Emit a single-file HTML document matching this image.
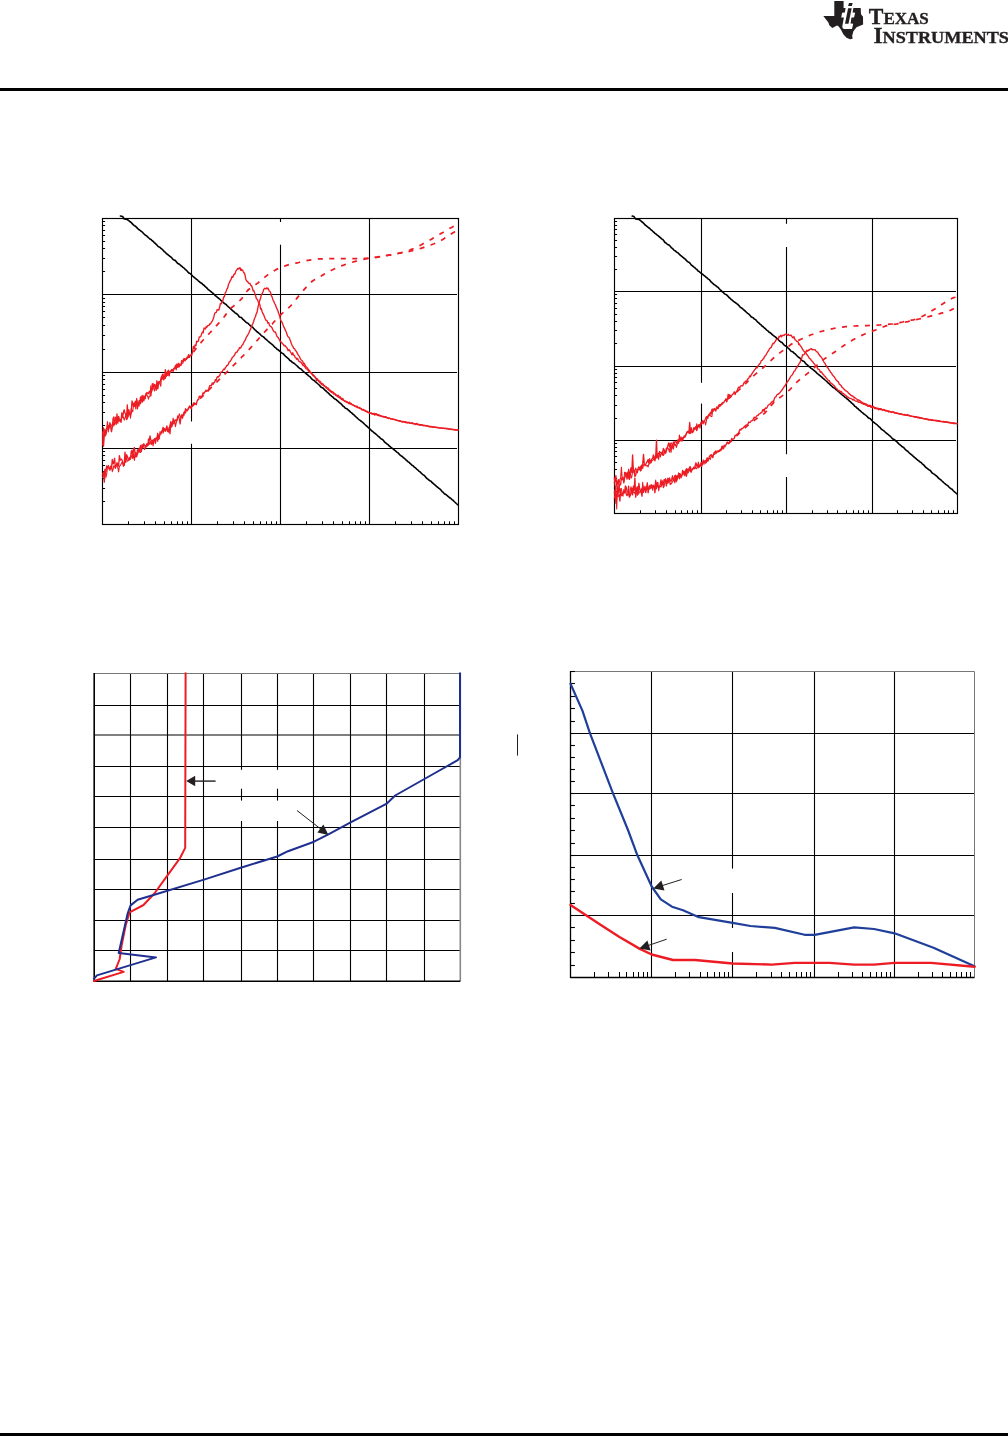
<!DOCTYPE html>
<html lang="en"><head><meta charset="utf-8"><title>Texas Instruments - Typical Characteristics</title>
<style>
html,body{margin:0;padding:0;background:#fff}
body{width:1008px;height:1436px;position:relative;overflow:hidden;font-family:"Liberation Serif",serif}
svg{position:absolute;left:0;top:0;display:block}
.logo{font-family:"Liberation Serif",serif;font-weight:bold;fill:#231f20;stroke:#231f20;stroke-width:.35px}
</style></head><body>
<svg width="1008" height="1436" viewBox="0 0 1008 1436">
<rect x="0" y="88" width="1008" height="3" fill="#000"/>
<rect x="0" y="1433" width="1008" height="3" fill="#000"/>
<g id="ti-logo"><title>TEXAS INSTRUMENTS</title>
<path fill="#231f20" d="M834.3,1 L843.6,1 L843.6,8 L860.7,8 L861,14.3 L863,16.7 L863.1,24.4 L856.5,27.2 L853.4,31.2 L852.2,35.7 L852.6,38.7 L850.1,39.3 L846.5,37.8 L843.3,34.2 L840.9,29.5 L838.5,26.2 L837,25.6 L832.3,27.9 L829.3,25.3 L828.4,22.6 L823.3,16 L834.3,16 Z"/>
<path fill="#fff" d="M845.7,7.5 L853.45,7.5 L852.6,12.5 L855.2,12.8 L854,17.6 L851.5,17.6 L850.5,23.5 L853.2,23.8 L852,28.9 L843.9,28.9 Q842,28.3 842.3,26.2 L843.9,17.6 L841.25,17.6 L842.1,12.8 L844.8,12.5 Z"/>
<path fill="#231f20" d="M848.1,8.2 L851.7,8.2 L848.5,23.8 L845,23.8 Z M849,3 L852.7,3 L851.8,6 L848.1,6 Z"/>
<text class="logo" x="868.8" y="23.6" textLength="60" lengthAdjust="spacingAndGlyphs"><tspan font-size="22.6">T</tspan><tspan font-size="17.6">EXAS</tspan></text>
<text class="logo" x="873.4" y="42.9" textLength="135.6" lengthAdjust="spacingAndGlyphs"><tspan font-size="22.6">I</tspan><tspan font-size="17.6">NSTRUMENTS</tspan></text>
</g>
<g id="chart1">
<rect x="102.5" y="218.5" width="356" height="306" fill="none" stroke="#000" stroke-width="1.15"/>
<line x1="191.5" y1="218.5" x2="191.5" y2="421.5" stroke="#000" stroke-width="1.1"/>
<line x1="191.5" y1="443.8" x2="191.5" y2="524.5" stroke="#000" stroke-width="1.1"/>
<line x1="280.5" y1="218.5" x2="280.5" y2="222" stroke="#000" stroke-width="1.1"/>
<line x1="280.5" y1="244.7" x2="280.5" y2="524.5" stroke="#000" stroke-width="1.1"/>
<line x1="369.5" y1="218.5" x2="369.5" y2="524.5" stroke="#000" stroke-width="1.1"/>
<line x1="102.5" y1="294.5" x2="457" y2="294.5" stroke="#000" stroke-width="1.1"/>
<line x1="102.5" y1="372.5" x2="457" y2="372.5" stroke="#000" stroke-width="1.1"/>
<line x1="102.5" y1="448.5" x2="457" y2="448.5" stroke="#000" stroke-width="1.1"/>
<line x1="102.5" y1="271.5" x2="105.1" y2="271.5" stroke="#000" stroke-width="1.0"/>
<line x1="102.5" y1="258.5" x2="105.1" y2="258.5" stroke="#000" stroke-width="1.0"/>
<line x1="102.5" y1="248.5" x2="105.1" y2="248.5" stroke="#000" stroke-width="1.0"/>
<line x1="102.5" y1="241.5" x2="105.1" y2="241.5" stroke="#000" stroke-width="1.0"/>
<line x1="102.5" y1="235.5" x2="105.1" y2="235.5" stroke="#000" stroke-width="1.0"/>
<line x1="102.5" y1="230.5" x2="105.1" y2="230.5" stroke="#000" stroke-width="1.0"/>
<line x1="102.5" y1="225.5" x2="105.1" y2="225.5" stroke="#000" stroke-width="1.0"/>
<line x1="102.5" y1="221.5" x2="105.1" y2="221.5" stroke="#000" stroke-width="1.0"/>
<line x1="102.5" y1="349.5" x2="105.1" y2="349.5" stroke="#000" stroke-width="1.0"/>
<line x1="102.5" y1="335.5" x2="105.1" y2="335.5" stroke="#000" stroke-width="1.0"/>
<line x1="102.5" y1="325.5" x2="105.1" y2="325.5" stroke="#000" stroke-width="1.0"/>
<line x1="102.5" y1="317.5" x2="105.1" y2="317.5" stroke="#000" stroke-width="1.0"/>
<line x1="102.5" y1="311.5" x2="105.1" y2="311.5" stroke="#000" stroke-width="1.0"/>
<line x1="102.5" y1="306.5" x2="105.1" y2="306.5" stroke="#000" stroke-width="1.0"/>
<line x1="102.5" y1="302.5" x2="105.1" y2="302.5" stroke="#000" stroke-width="1.0"/>
<line x1="102.5" y1="298.5" x2="105.1" y2="298.5" stroke="#000" stroke-width="1.0"/>
<line x1="102.5" y1="425.5" x2="105.1" y2="425.5" stroke="#000" stroke-width="1.0"/>
<line x1="102.5" y1="412.5" x2="105.1" y2="412.5" stroke="#000" stroke-width="1.0"/>
<line x1="102.5" y1="402.5" x2="105.1" y2="402.5" stroke="#000" stroke-width="1.0"/>
<line x1="102.5" y1="395.5" x2="105.1" y2="395.5" stroke="#000" stroke-width="1.0"/>
<line x1="102.5" y1="389.5" x2="105.1" y2="389.5" stroke="#000" stroke-width="1.0"/>
<line x1="102.5" y1="384.5" x2="105.1" y2="384.5" stroke="#000" stroke-width="1.0"/>
<line x1="102.5" y1="379.5" x2="105.1" y2="379.5" stroke="#000" stroke-width="1.0"/>
<line x1="102.5" y1="375.5" x2="105.1" y2="375.5" stroke="#000" stroke-width="1.0"/>
<line x1="102.5" y1="501.5" x2="105.1" y2="501.5" stroke="#000" stroke-width="1.0"/>
<line x1="102.5" y1="488.5" x2="105.1" y2="488.5" stroke="#000" stroke-width="1.0"/>
<line x1="102.5" y1="478.5" x2="105.1" y2="478.5" stroke="#000" stroke-width="1.0"/>
<line x1="102.5" y1="471.5" x2="105.1" y2="471.5" stroke="#000" stroke-width="1.0"/>
<line x1="102.5" y1="465.5" x2="105.1" y2="465.5" stroke="#000" stroke-width="1.0"/>
<line x1="102.5" y1="460.5" x2="105.1" y2="460.5" stroke="#000" stroke-width="1.0"/>
<line x1="102.5" y1="455.5" x2="105.1" y2="455.5" stroke="#000" stroke-width="1.0"/>
<line x1="102.5" y1="451.5" x2="105.1" y2="451.5" stroke="#000" stroke-width="1.0"/>
<line x1="128.5" y1="521.3" x2="128.5" y2="524.5" stroke="#000" stroke-width="1.0"/>
<line x1="144.5" y1="521.3" x2="144.5" y2="524.5" stroke="#000" stroke-width="1.0"/>
<line x1="155.5" y1="521.3" x2="155.5" y2="524.5" stroke="#000" stroke-width="1.0"/>
<line x1="164.5" y1="521.3" x2="164.5" y2="524.5" stroke="#000" stroke-width="1.0"/>
<line x1="171.5" y1="521.3" x2="171.5" y2="524.5" stroke="#000" stroke-width="1.0"/>
<line x1="177.5" y1="521.3" x2="177.5" y2="524.5" stroke="#000" stroke-width="1.0"/>
<line x1="182.5" y1="521.3" x2="182.5" y2="524.5" stroke="#000" stroke-width="1.0"/>
<line x1="187.5" y1="521.3" x2="187.5" y2="524.5" stroke="#000" stroke-width="1.0"/>
<line x1="217.5" y1="521.3" x2="217.5" y2="524.5" stroke="#000" stroke-width="1.0"/>
<line x1="233.5" y1="521.3" x2="233.5" y2="524.5" stroke="#000" stroke-width="1.0"/>
<line x1="244.5" y1="521.3" x2="244.5" y2="524.5" stroke="#000" stroke-width="1.0"/>
<line x1="253.5" y1="521.3" x2="253.5" y2="524.5" stroke="#000" stroke-width="1.0"/>
<line x1="260.5" y1="521.3" x2="260.5" y2="524.5" stroke="#000" stroke-width="1.0"/>
<line x1="266.5" y1="521.3" x2="266.5" y2="524.5" stroke="#000" stroke-width="1.0"/>
<line x1="271.5" y1="521.3" x2="271.5" y2="524.5" stroke="#000" stroke-width="1.0"/>
<line x1="276.5" y1="521.3" x2="276.5" y2="524.5" stroke="#000" stroke-width="1.0"/>
<line x1="306.5" y1="521.3" x2="306.5" y2="524.5" stroke="#000" stroke-width="1.0"/>
<line x1="322.5" y1="521.3" x2="322.5" y2="524.5" stroke="#000" stroke-width="1.0"/>
<line x1="333.5" y1="521.3" x2="333.5" y2="524.5" stroke="#000" stroke-width="1.0"/>
<line x1="342.5" y1="521.3" x2="342.5" y2="524.5" stroke="#000" stroke-width="1.0"/>
<line x1="349.5" y1="521.3" x2="349.5" y2="524.5" stroke="#000" stroke-width="1.0"/>
<line x1="355.5" y1="521.3" x2="355.5" y2="524.5" stroke="#000" stroke-width="1.0"/>
<line x1="360.5" y1="521.3" x2="360.5" y2="524.5" stroke="#000" stroke-width="1.0"/>
<line x1="365.5" y1="521.3" x2="365.5" y2="524.5" stroke="#000" stroke-width="1.0"/>
<line x1="395.5" y1="521.3" x2="395.5" y2="524.5" stroke="#000" stroke-width="1.0"/>
<line x1="411.5" y1="521.3" x2="411.5" y2="524.5" stroke="#000" stroke-width="1.0"/>
<line x1="422.5" y1="521.3" x2="422.5" y2="524.5" stroke="#000" stroke-width="1.0"/>
<line x1="431.5" y1="521.3" x2="431.5" y2="524.5" stroke="#000" stroke-width="1.0"/>
<line x1="438.5" y1="521.3" x2="438.5" y2="524.5" stroke="#000" stroke-width="1.0"/>
<line x1="444.5" y1="521.3" x2="444.5" y2="524.5" stroke="#000" stroke-width="1.0"/>
<line x1="449.5" y1="521.3" x2="449.5" y2="524.5" stroke="#000" stroke-width="1.0"/>
<line x1="454.5" y1="521.3" x2="454.5" y2="524.5" stroke="#000" stroke-width="1.0"/>
<polyline fill="none" stroke="#000" stroke-width="1.6" stroke-linejoin="round" stroke-linecap="round" points="120.4,216 122.6,216.6 124.3,218.9 127.3,219.5 129,220.8 130,221.8 131.2,222.5 132.2,223.6 133.4,224.9 134.4,225.7 135.6,226.2 136.6,227.4 137.8,228.6 138.8,229.5 140,230.3 141,231.3 142.2,231.9 143.2,233.1 144.4,234.3 145.4,235.2 146.6,235.7 147.6,236.9 148.8,238 149.8,238.9 151.1,239.5 152.1,240.7 153.3,241.5 154.3,242.6 155.5,243.7 156.5,244.6 157.7,246.1 158.7,246.7 159.9,247.2 160.9,248.4 162.1,249.2 163.1,250.3 164.3,251.6 165.3,252.3 166.5,253.8 167.5,254.3 168.7,255.3 169.7,256.1 170.9,257 171.9,258 173.1,259.6 174.1,260.1 175.3,260.4 176.3,261.7 177.5,263.2 178.5,263.8 179.7,264.5 180.7,265.5 181.9,266.3 182.9,267.4 184.1,268.1 185.1,269.3 186.3,270.2 187.3,271.3 188.5,272.7 189.5,273.3 190.7,273.9 191.7,275 192.9,276.3 193.9,277.1 195.1,278.2 196.1,279 197.3,279.8 198.3,280.8 199.6,281.9 200.6,282.8 201.8,283.3 202.8,284.5 204,285.2 205,286.4 206.2,287.3 207.2,288.4 208.4,289.7 209.4,290.4 210.6,291.3 211.6,292.2 212.8,293.1 213.8,294.1 215,295.3 216,296.1 217.2,297.1 218.2,298 219.4,298.8 220.4,299.8 221.6,301.2 222.6,301.9 223.8,303 224.8,303.7 226,304.4 227,305.5 228.2,306.7 229.2,307.5 230.4,308.6 231.4,309.4 232.6,310.8 233.6,311.4 234.8,312.6 235.8,313.3 237,314 238,315 239.2,316.7 240.2,317.2 241.4,317.6 242.4,318.8 243.6,319.9 244.6,320.8 245.9,322.1 246.9,322.8 248.1,323.4 249.1,324.5 250.3,325.6 251.3,326.5 252.5,327.1 253.5,328.3 254.7,329.6 255.7,330.4 256.9,331.7 257.9,332.3 259.1,333.4 260.1,334.2 261.3,335.6 262.3,336.2 263.5,336.9 264.5,337.9 265.7,339.2 266.7,339.9 267.9,341 268.9,341.8 270.1,342.9 271.1,343.7 272.3,344.6 273.3,345.5 274.5,347 275.5,347.6 276.7,349 277.7,349.5 278.9,350.4 279.9,351.3 281.1,352.5 282.1,353.2 283.3,353.7 284.3,354.9 285.5,356.3 286.5,357 287.7,358.2 288.7,358.9 289.9,360.5 290.9,360.9 292.1,362.2 293.1,362.8 294.4,363.5 295.4,364.5 296.6,365.5 297.6,366.4 298.8,367.7 299.8,368.4 301,368.9 302,370.1 303.2,371.3 304.2,372.2 305.4,372.9 306.4,374 307.6,374.7 308.6,375.9 309.8,376.6 310.8,377.8 312,379.2 313,379.9 314.2,380.4 315.2,381.6 316.4,382.5 317.4,383.5 318.6,384.5 319.6,385.5 320.8,387 321.8,387.5 323,388 324,389.2 325.2,390.3 326.2,391.2 327.4,392.3 328.4,393.1 329.6,394.6 330.6,395.2 331.8,396.4 332.8,397 334,398.4 335,399 336.2,399.6 337.2,400.7 338.4,401.7 339.4,402.6 340.7,403.5 341.7,404.5 342.9,406 343.9,406.6 345.1,408 346.1,408.5 347.3,409 348.3,410.1 349.5,411 350.5,412.1 351.7,412.9 352.7,414 353.9,414.8 354.9,415.9 356.1,417 357.1,417.9 358.3,419 359.3,419.8 360.5,420.6 361.5,421.6 362.7,422.2 363.7,423.4 364.9,424.5 365.9,425.5 367.1,426.4 368.1,427.4 369.3,428.5 370.3,429.3 371.5,430.8 372.5,431.3 373.7,432.5 374.7,433.2 375.9,434.2 376.9,435 378.1,436.2 379.1,436.9 380.3,438.1 381.3,438.9 382.5,439.4 383.5,440.6 384.7,442.2 385.7,442.8 387,444 388,444.6 389.2,446 390.2,446.6 391.4,447.8 392.4,448.4 393.6,449.3 394.6,450.2 395.8,451.2 396.8,452.1 398,452.7 399,453.9 400.2,455.2 401.2,456 402.4,456.5 403.4,457.7 404.6,458.4 405.6,459.6 406.8,460.5 407.8,461.6 409,462.3 410,463.4 411.2,464.4 412.2,465.4 413.4,466 414.4,467.2 415.6,467.9 416.6,469.1 417.8,469.9 418.8,471.1 420,471.8 421,472.9 422.2,474 423.2,474.9 424.4,475.5 425.4,476.7 426.6,478.3 427.6,478.9 428.8,480 429.8,480.7 431,481.3 432,482.5 433.2,483.4 434.2,484.4 435.5,485.4 436.5,486.3 437.7,487.3 438.7,488.3 439.9,488.9 440.9,490.1 442.1,491.6 443.1,492.2 444.3,493.7 445.3,494.2 446.5,495 447.5,495.9 448.7,496.9 449.7,497.8 450.9,498.4 451.9,499.6 453.1,500.3 454.1,501.5 455.3,502.5 456.3,503.5 458,505"/>
<polyline fill="none" stroke="#ed1c24" stroke-width="1.35" stroke-linejoin="round" stroke-linecap="round" points="102.7,431.9 103.5,446.2 104.3,435.3 105.1,429.3 105.9,434.2 106.7,430.1 107.5,427.9 108.3,425.6 109.1,428.1 109.9,422.7 110.7,427.3 111.5,431.7 112.3,427.1 113.1,418.6 113.8,416.9 114.6,422.4 115.4,422 116.2,424.4 117,414 117.8,423.1 118.6,418.5 119.4,421.1 120.2,420 121,422.4 121.8,412.9 122.6,417.5 123.4,412.5 124.2,409.8 125,413 125.8,414.6 126.6,416.2 127.3,405 128.1,416.8 128.9,409.8 129.7,414.6 130.5,415.4 131.2,413.2 132,401 132.8,404.5 133.6,406.6 134.4,404.2 135.2,402.7 135.9,408.8 136.7,400.2 137.5,402.9 138.3,404.9 139.1,400.7 139.8,402.1 140.6,396.9 141.4,400.9 142.2,402.1 143,396.8 143.8,400.8 144.5,397.8 145.3,396.8 146.1,393.9 146.9,392.5 147.7,393.3 148.4,393.7 149.2,391.4 150,391.2 150.8,395.9 151.5,390.8 152.3,383.8 153.1,385.7 153.8,388 154.6,384.5 155.4,386 156.2,390.2 156.9,380.8 157.7,388.8 158.5,381.9 159.2,381.9 160,382.7 160.8,379.2 161.5,376.8 162.3,379 163.1,375.5 163.8,379.8 164.6,377.1 165.4,369.7 166.2,376.4 166.9,372.6 167.7,375.4 168.5,370.3 169.2,375.9 170,371.6 170.8,371.5 171.6,369.9 172.3,369.9 173.1,370.2 173.9,368.2 174.7,368.2 175.4,365.6 176.2,369.6 177,363.9 177.8,367.3 178.6,363.3 179.3,366.4 180.1,365.3 180.9,364.8 181.7,360.7 182.5,361.4 183.2,359.8 184,358.5 184.8,360.8 185.6,359.7 186.4,359.1 187.1,357.2 187.9,356.7 188.7,354.6 189.5,357.4 190.2,355.5 191,354.8 191.8,355.2 192.6,351.5 193.4,346.3 194.3,348.6 195.1,345 195.9,345.6 196.7,341.2 197.5,341.7 198.4,341.2 199.2,336.8 200,336.8 200.8,336.4 201.6,334.1 202.4,331.9 203.2,332.7 204,328 204.8,328.6 205.5,329 206.1,326.7 206.8,327.3 207.4,325.7 208.1,325.7 208.7,325.4 209.4,324.9 210,323.6 210.7,323.8 211.5,322 212.3,321.1 213.1,319.2 213.9,316.7 214.7,313.3 215.5,312.7 216.3,312.3 217.1,309.7 217.9,309.9 218.8,310.2 219.6,307.3 220.4,303.5 221.2,303.9 222,302 222.8,301 223.6,296.8 224.4,296.8 225.2,292.9 226,291.9 226.8,289.4 227.7,287.8 228.5,284.5 229.4,282.5 230.3,280.6 231.1,279.4 232,276.5 232.7,277.4 233.3,276.3 234,274.1 234.7,274.3 235.3,272.9 236,270.9 236.8,269.8 237.7,268.4 238.5,269 239.3,268.1 240,267.7 240.7,270.4 241.3,269 242,270.5 242.7,270.1 243.3,271.8 243.9,272.8 244.6,273.5 245.2,276 245.8,279.2 246.6,281 247.5,281.3 248.3,282.9 249.1,283.5 249.9,283.3 250.8,285.6 251.6,285.7 252.4,288 253.1,290.9 253.7,290.4 254.4,292.2 255,294.5 255.7,295.8 256.3,298.6 257,299.2 257.6,299.7 258.3,302.1 259.1,303 259.8,304.3 260.6,309.1 261.3,308.6 262.1,311.5 262.8,313.4 263.6,314.5 264.3,316.6 265.2,318.7 266.1,320.5 267,320.4 267.9,323.2 268.7,322.7 269.6,325.6 270.5,326.3 271.4,326.8 272.2,328.2 273,330.2 273.8,331.4 274.6,332.1 275.4,331.9 276.2,334.3 277,336.4 277.8,337.1 278.6,338.4 279.4,339.5 280.2,341.6 281,341.9 281.8,342.8 282.6,343.7 283.4,344.5 284.2,345.8 284.9,345.4 285.7,346.4 286.5,347.5 287.3,348.3 288.1,350.7 288.9,349.6 289.7,350.4 290.5,352 291.3,353.3 292,354.9 292.8,352.8 293.6,355.1 294.4,355.3 295.2,357.6 296,357.9 296.8,359.4 297.6,358.5 298.4,360.6 299.2,361.5 300,361.8 300.8,362 301.6,363.3 302.4,364.2 303.1,365.6 303.9,365.5 304.7,366.6 305.5,368 306.3,368.7 307.1,369.2 307.9,370 308.7,371.1 309.5,370.4 310.3,372.4 311.1,372.7 311.9,373.8 312.7,374.4 313.5,375.1 314.2,376 315,376.7 315.8,378.3 316.6,378.5 317.4,378.9 318.2,380.5 319,381 319.8,381.2 320.6,382 321.4,383.5 322.1,383.6 322.9,383.9 323.7,384.9 324.5,385.7 325.3,386.3 326.1,386.7 326.9,387.8 327.6,388 328.4,388.2 329.2,389.8 330,390.7 330.8,390.5 331.5,392.1 332.2,391.5 333,392 333.8,392.9 334.5,393.5 335.2,393.9 336,394.9 336.8,395.4 337.5,395.7 338.2,395.1 339,396.4 339.8,397.2 340.5,396.9 341.2,398.6 342,399.2 342.8,398.5 343.5,400.4 344.2,400.7 345,401.2 345.8,401.2 346.5,401.6 347.3,402 348,402.4 348.8,402.8 349.6,402.3 350.3,403.1 351.1,403.3 351.8,404.4 352.6,404.6 353.4,405.2 354.1,405.5 354.9,406.1 355.6,406.1 356.4,406.1 357.1,406.2 357.9,407.5 358.7,407.5 359.4,407.5 360.2,408.1 360.9,408.5 361.7,409.2 362.5,409.3 363.2,409.3 364,410.1 364.7,410.1 365.5,410.9 366.3,411.3 367,411.2 367.8,411.8 368.5,412.5 369.3,412.7 370.1,413 370.8,413.2 371.6,413 372.4,413.7 373.1,413.6 373.9,413.5 374.7,413.5 375.4,414.5 376.2,413.7 377,414.7 377.7,415 378.5,414.7 379.3,415.1 380,415.4 380.8,415.8 381.6,416.2 382.3,416.3 383.1,416.3 383.9,416.7 384.6,416.6 385.4,416.6 386.2,417.1 387,417.7 387.7,417.7 388.5,418.6 389.3,418.2 390,418.4 390.8,418.6 391.6,418.8 392.3,418.9 393.1,419.3 393.9,419.1 394.6,419.5 395.4,419.9 396.2,419.9 396.9,420.2 397.7,420.4 398.5,420.7 399.2,420.6 400,421 400.8,421.2 401.5,421.3 402.2,421.4 403,421.4 403.8,421.7 404.5,421.9 405.2,421.9 406,422.2 406.8,422.2 407.5,422.9 408.2,422.5 409,422.3 409.8,423.1 410.5,423.1 411.2,423.3 412,423.4 412.8,423 413.5,423.3 414.2,423.7 415,423.8 415.8,424.5 416.5,423.4 417.2,424 418,424.5 418.8,424.6 419.5,424.5 420.2,424.9 421,424.7 421.8,424.6 422.5,425 423.2,425.1 424,425.4 424.8,425.3 425.5,425.7 426.2,425.9 427,425.5 427.8,426.2 428.5,426.5 429.2,426.5 430,426.7 430.8,426.7 431.6,426.9 432.3,427 433.1,426.9 433.9,426.9 434.7,427.4 435.4,427.1 436.2,427.3 437,427.3 437.8,427.7 438.6,427.9 439.3,427.8 440.1,427.9 440.9,427.8 441.7,428.4 442.4,428.1 443.2,428.2 444,428.3 444.8,428.3 445.6,428.2 446.3,428.5 447.1,428.4 447.9,428.7 448.7,429.1 449.4,428.9 450.2,429 451,429.6 451.8,429.2 452.6,429.2 453.3,429.7 454.1,429.6 454.9,429.8 455.7,429.7 456.4,429.8 457.2,429.9 458,429.8"/>
<polyline fill="none" stroke="#ed1c24" stroke-width="1.35" stroke-linejoin="round" stroke-linecap="round" points="102.7,473.7 103.5,473.2 104.3,482.2 105.1,469.7 105.9,471.6 106.7,465.9 107.5,467.1 108.3,467.2 109.1,468.9 109.9,469 110.7,468.9 111.5,468 112.3,459.5 113.1,463.8 113.8,462.6 114.6,458.3 115.4,467.8 116.2,465.5 117,463.7 117.8,463.9 118.6,465.9 119.4,455.7 120.2,460.2 121,459.2 121.8,459.3 122.6,462.5 123.4,466.2 124.2,464.7 125,452.2 125.8,462.4 126.6,454.7 127.3,456.3 128.1,458.5 128.9,460.1 129.7,457.5 130.5,459 131.2,451.8 132,450.3 132.8,456.8 133.6,449.3 134.4,447.6 135.2,455.4 135.9,452.8 136.7,456.6 137.5,449.8 138.3,449.9 139.1,452.3 139.8,448.4 140.6,445.4 141.4,451.2 142.2,444.6 143,447.2 143.8,443.6 144.5,445.9 145.3,445.4 146.1,447 146.9,445.3 147.7,445.5 148.4,444.6 149.2,440.7 150,436 150.8,440.2 151.5,440.3 152.3,441.8 153.1,439.8 153.8,440.9 154.6,438.7 155.4,443.3 156.2,438.8 156.9,438.7 157.7,433.3 158.5,439.2 159.2,437.6 160,434.1 160.8,434.1 161.5,432.7 162.3,430.3 163.1,427.3 163.8,431 164.6,428.5 165.4,431.2 166.2,428.5 166.9,425.9 167.7,431.4 168.5,432.1 169.2,427.7 170,433.7 170.8,422.8 171.6,424.7 172.3,421.9 173.1,423.2 173.9,423.9 174.7,421.1 175.4,420 176.2,420.2 177,420.2 177.8,415.9 178.6,416.8 179.3,418.8 180.1,423.9 180.9,417.8 181.7,414.8 182.5,418.2 183.2,414.6 184,412.1 184.8,412.3 185.6,408.7 186.4,410.3 187.1,410.9 187.9,409.3 188.7,407.6 189.5,407.2 190.2,406.8 191,406.5 191.8,406.7 192.6,405.4 193.3,403.5 194.1,402.7 194.8,404.3 195.6,403.4 196.3,404.7 197.1,401.1 197.8,399.6 198.6,399.6 199.3,396.2 200.1,397.1 200.8,396.3 201.6,397.2 202.3,395.5 203.1,392.8 203.8,393.8 204.6,392.1 205.3,391.6 206.1,390.2 206.8,391.4 207.6,390.3 208.3,391 209.1,387.7 209.9,385.5 210.6,385.6 211.4,385.7 212.2,383 213,384.4 213.7,382.6 214.5,382.6 215.3,379.6 216.1,380.5 216.8,377.9 217.6,376.6 218.4,377.1 219.2,375.9 219.9,375.4 220.7,372.1 221.5,372.1 222.2,371.6 223,370.2 223.8,369 224.6,369.6 225.3,367.8 226.1,366.9 226.9,365.4 227.6,365.3 228.4,364.1 229.2,361.8 229.9,361.8 230.7,360.2 231.4,359.7 232.2,357.6 233,356.9 233.7,356 234.5,355.2 235.3,353.2 236.2,352.1 237,352.2 237.9,350.3 238.7,349.7 239.5,347.6 240.4,348.1 241.2,347 242.1,345 242.9,344.6 243.6,342.8 244.2,341.7 244.9,340.5 245.5,339.8 246.2,337.5 246.8,336.2 247.5,335.8 248.1,334.3 248.8,333.4 249.6,331 250.4,329.4 251.2,327.4 252,325.4 252.8,323.7 253.6,321.5 254.5,318.5 255.4,316.7 256.2,313.9 257.1,312.1 258,306.9 258.9,303.8 259.6,300.9 260.4,298.8 261.1,295.8 261.9,294 262.5,292.9 263.1,291.5 263.7,289.5 264.5,288.3 265.2,288.7 266,288.7 266.6,287.9 267.2,288.8 267.9,288.1 268.5,289.3 269.2,291 269.9,291.3 270.7,293 271.4,295.8 272.2,297.1 273,300 273.8,301.3 274.6,303.5 275.4,304.7 276.2,307.1 277,308.9 277.8,310.5 278.6,313.3 279.4,315.3 280.2,318.4 281,320.9 281.8,321.9 282.6,323.6 283.4,326 284.1,327.4 284.9,329.1 285.7,330.8 286.3,332.2 286.9,334 287.5,335.9 288.4,337 289.3,337.7 289.9,339.5 290.5,340.7 291.1,342.7 291.7,344.5 292.3,345.6 292.9,346.6 293.7,348.3 294.6,348.7 295.4,350.5 296.2,351.1 297,352.6 297.9,354.4 298.7,355.7 299.5,356.7 300.4,358.8 301.2,360 302,360.5 302.8,361.7 303.6,363.9 304.4,363.4 305.2,365.4 305.9,366.4 306.7,367.2 307.5,368.2 308.3,369.5 309.1,370.4 309.9,372.1 310.7,372.7 311.5,373.6 312.4,374.6 313.2,375.8 314,375.9 314.9,377.2 315.7,377.9 316.5,380.5 317.3,379.9 318.2,380.3 319,381.6 319.8,382.7 320.6,383.2 321.4,384.3 322.1,384.8 322.9,385.2 323.7,385.7 324.5,386.3 325.3,386.8 326.1,388 326.9,387.7 327.6,389.1 328.4,389.8 329.2,390.5 330,390.8 330.8,391.7 331.5,391.7 332.2,392.8 333,392.9 333.8,394 334.5,393.5 335.2,394.7 336,395.5 336.8,395.8 337.5,396.2 338.2,397 339,397.1 339.8,398 340.5,398 341.2,399.1 342,399.6 342.8,399.9 343.5,399.9 344.2,400.9 345,401.3 345.8,401.9 346.5,401.8 347.3,402.7 348,402.5 348.8,403.7 349.6,403.3 350.3,403.9 351.1,404.3 351.8,404.6 352.6,404.8 353.4,405.1 354.1,405.8 354.9,406.1 355.6,406.6 356.4,407 357.1,407.5 357.9,407.6 358.7,407.9 359.4,408 360.2,408.7 360.9,408.5 361.7,409.6 362.5,410.1 363.2,410 364,410.5 364.7,410.8 365.5,411.3 366.3,411.3 367,412.1 367.8,412.3 368.5,412.7 369.3,412.9 370.1,413.4 370.8,413.2 371.6,413.8 372.4,414.2 373.1,414.1 373.9,414.2 374.7,415.1 375.4,414.3 376.2,414.7 377,414.3 377.7,415.4 378.5,415.7 379.3,415.5 380,416.1 380.8,415.9 381.6,416.4 382.3,416.5 383.1,416.8 383.9,417.2 384.6,417.1 385.4,417.4 386.2,417.4 387,417.8 387.7,417.8 388.5,418.4 389.3,418.1 390,418.3 390.8,419 391.6,419.1 392.3,419.2 393.1,419.2 393.9,419.5 394.6,419.6 395.4,420 396.2,420.1 396.9,420.5 397.7,420.7 398.5,420.7 399.2,421.2 400,421 400.8,421.3 401.5,421.6 402.2,422.3 403,421.7 403.8,421.7 404.5,422.4 405.2,421.8 406,422.8 406.8,422.3 407.5,422.7 408.2,422.6 409,422.8 409.8,423 410.5,423.4 411.2,423.3 412,422.7 412.8,423.8 413.5,423.8 414.2,423.9 415,424.2 415.8,423.8 416.5,424.2 417.2,423.8 418,424.7 418.8,424.5 419.5,425.1 420.2,425.3 421,425.1 421.8,425.2 422.5,425.4 423.2,425.6 424,425.9 424.8,425.5 425.5,425.9 426.2,425.9 427,425.8 427.8,426.2 428.5,426.1 429.2,426.9 430,426.4 430.8,426.3 431.6,426.9 432.3,427 433.1,427.2 433.9,427.2 434.7,427.2 435.4,427.4 436.2,427.5 437,427.3 437.8,427.6 438.6,427.8 439.3,427.8 440.1,427.8 440.9,428.1 441.7,428.3 442.4,428.4 443.2,428.1 444,428.3 444.8,428.7 445.6,428.6 446.3,428.6 447.1,428.8 447.9,428.9 448.7,429.1 449.4,429.4 450.2,429.2 451,429.4 451.8,429.4 452.6,429.6 453.3,429.6 454.1,429.4 454.9,430 455.7,429.9 456.4,430 457.2,430.2 458,429.9"/>
<polyline fill="none" stroke="#ed1c24" stroke-width="1.1" stroke-linejoin="round" stroke-linecap="round" points="102.7,445 103.5,427.6 104.3,431.2 105.1,436.3 105.9,434.8 106.7,427.7 107.5,421.6 108.3,432 109.1,427 109.9,426 110.7,424.1 111.5,425.9 112.3,426.5 113.1,426.3 113.8,422 114.6,425.1 115.4,417 116.2,420.6 117,420.5 117.8,419.4 118.6,416.2 119.4,418.6 120.2,419.4 121,420.9 121.8,417.6 122.6,417.1 123.4,417 124.2,420.1 125,418.1 125.8,414.6 126.6,419.8 127.3,419 128.1,410.1 128.9,414.1 129.7,412.4 130.5,418.1 131.2,408.3 132,411.4 132.8,411.6 133.6,403.1 134.4,406.7 135.2,401.1 135.9,403.7 136.7,398.4 137.5,409 138.3,403.4 139.1,406.3 139.8,401 140.6,403.9 141.4,397.6 142.2,395.2 143,400.2 143.8,395.6 144.5,396.6 145.3,398.8 146.1,393.4 146.9,394.9 147.7,396.1 148.4,399.2 149.2,396.5 150,396.2 150.8,385.9 151.5,391.7 152.3,390 153.1,383.4 153.8,388.8 154.6,391 155.4,387.1 156.2,384.5 156.9,387.1 157.7,388.4 158.5,382.8 159.2,381.5 160,384.3 160.8,386.3 161.5,376.7 162.3,374.6 163.1,373.9 163.8,379.2 164.6,376.6 165.4,378.4 166.2,373.9 166.9,374 167.7,371 168.5,372.9 169.2,373.9 170,371.1 170.8,371.8 171.5,369.6 172.2,369.4 173,371.9 173.8,369.8 174.5,368.5 175.2,367.8 176,364.8 176.8,365.2 177.5,364.6 178.2,364.9 179,367.2 179.8,364 180.5,365.1 181.2,365.3 182,363.1 182.8,363.3 183.5,361.3 184.2,359.6 185,358.3"/>
<polyline fill="none" stroke="#ed1c24" stroke-width="1.1" stroke-linejoin="round" stroke-linecap="round" points="102.7,477.5 103.5,471.9 104.3,473.2 105.1,469 105.9,477.5 106.7,473.9 107.5,467.1 108.3,465.4 109.1,467.3 109.9,470.4 110.7,465.9 111.5,466.3 112.3,471.6 113.1,469.3 113.8,465.7 114.6,466.6 115.4,468.4 116.2,465.9 117,462.4 117.8,467.7 118.6,471.9 119.4,466.5 120.2,465.7 121,464.2 121.8,462.9 122.6,461.9 123.4,463.4 124.2,465.5 125,461.5 125.8,459.6 126.6,458.1 127.3,461.2 128.1,460.8 128.9,459.4 129.7,459.7 130.5,458.8 131.2,455.7 132,456.2 132.8,458.5 133.6,454.2 134.4,460.5 135.2,453.7 135.9,457.1 136.7,455.1 137.5,454.5 138.3,451.9 139.1,448.1 139.8,449.3 140.6,452.5 141.4,450.8 142.2,446.8 143,445.8 143.8,446.7 144.5,449.5 145.3,447.7 146.1,445.7 146.9,443.4 147.7,446 148.4,438.9 149.2,443.9 150,444.2 150.8,441.2 151.5,444.4 152.3,441.6 153.1,446 153.8,440.8 154.6,440.8 155.4,438.5 156.2,437.6 156.9,438.3 157.7,441.4 158.5,435 159.2,438.9 160,431.5 160.8,432.7 161.5,431.7 162.3,431 163.1,433.1 163.8,429.8 164.6,430.5 165.4,430 166.2,430.2 166.9,427.6 167.7,431.4 168.5,429.6 169.2,428 170,425 170.8,421.4 171.6,427.3 172.3,425.7 173.1,418 173.9,422.2 174.7,420.1 175.4,426.6 176.2,423.1 177,420.5 177.8,417.8 178.6,417 179.3,413.9 180.1,415.9 180.9,417.8 181.7,417.5 182.5,417 183.2,414.3 184,415.5 184.8,411.9 185.6,413.1 186.4,409.9 187.1,410 187.9,409.9 188.7,408.1 189.5,405.8 190.2,408.3 191,406.6 191.8,409.2"/>
<polyline fill="none" stroke="#ed1c24" stroke-width="1.75" stroke-linejoin="round" stroke-linecap="butt" stroke-dasharray="5 6.5" points="185,360 185.7,359.4 186.7,358.6 187.8,357.6 189.1,356.5 190.4,355.2 191.8,353.8 192.7,352.7 193.8,351.5 194.8,350.2 195.9,348.8 197,347.4 198.1,346.1 199.2,344.7 200.2,343.4 201.2,342.3 202.3,341 203.2,340 204.1,339 205,338.1 205.9,337.1 207,335.9 208.3,334.5 209.2,333.5 210.2,332.5 211.3,331.3 212.4,330.1 213.6,328.8 214.8,327.5 216,326.2 217.2,324.9 218.3,323.7 219.4,322.5 220.5,321.3 221.4,320.2 222.6,318.8 223.6,317.5 224.6,316.2 225.6,314.9 226.5,313.7 227.4,312.5 228.2,311.4 229,310.4 229.8,309.5 231.1,308.1 232.3,307 233.5,306.1 234.6,305.2 235.7,304.2 236.9,303.1 238.1,302.1 239.3,301 240.5,299.9 241.7,298.6 242.6,297.4 243.5,296.1 244.4,294.7 245.3,293.3 246.3,291.9 247.6,290.5 248.7,289.5 250,288.5 251.4,287.5 252.8,286.5 254.2,285.6 255.7,284.6 257,283.6 258.3,282.7 259.6,281.6 260.8,280.6 262,279.6 263.1,278.5 264.3,277.5 265.5,276.6 266.7,275.6 268,274.7 269.3,273.8 270.6,272.9 271.9,272 273.3,271.2 274.7,270.4 276.2,269.6 277.6,268.9 279,268.3 280.5,267.6 282.1,267 283.6,266.4 285.2,265.9 286.7,265.4 288.1,264.9 289.7,264.4 291.2,264 292.8,263.7 294.3,263.4 295.8,263.1 297.3,262.8 298.8,262.5 300.3,262.1 301.9,261.8 303.4,261.4 305,261 306.5,260.7 308,260.4 309.5,260.1 311.1,259.8 312.5,259.6 313.9,259.4 315.4,259.2 317,259 319,258.9 320.2,258.8 321.4,258.8 322.6,258.8 323.8,258.7 325.1,258.7 326.5,258.7 328,258.7 329.6,258.7 331.4,258.6 333.4,258.6 335.6,258.6 336.8,258.6 338.1,258.6 339.5,258.6 341,258.6 342.5,258.5 344.1,258.5 345.7,258.5 347.4,258.5 349.2,258.5 350.9,258.5 352.6,258.5 354.4,258.5 356.1,258.5 357.8,258.5 359.5,258.4 361.1,258.4 362.7,258.4 364.2,258.4 365.6,258.3 366.9,258.3 368.2,258.3 369.3,258.2 371.7,258.1 373.6,257.9 375.3,257.7 376.6,257.5 377.9,257.2 379,257 380.2,256.7 381.5,256.5 383,256.2 384.5,255.9 386.1,255.7 387.7,255.4 389.3,255.1 391,254.9 392.6,254.6 394.3,254.2 395.9,253.9 397.5,253.6 399,253.2 400.6,252.8 402.2,252.4 403.7,251.9 405.3,251.5 406.8,251 408.3,250.5 409.8,250 411.4,249.4 413,248.7 414.4,248.1 415.8,247.4 417.3,246.7 418.9,246 420.4,245.2 421.9,244.4 423.4,243.6 424.9,242.8 426.3,242.1 427.6,241.4 428.8,240.7 430.5,239.8 431.9,238.9 433.2,238.1 434.5,237.4 435.8,236.6 437.1,235.7 438.7,234.8 440,234.1 441.4,233.2 442.9,232.4 444.4,231.5 446,230.6 447.5,229.7 449,228.8 450.3,228.1 451.6,227.4 452.6,226.8 455.1,225.5 456.6,224.9 457.5,224.5"/>
<polyline fill="none" stroke="#ed1c24" stroke-width="1.75" stroke-linejoin="round" stroke-linecap="butt" stroke-dasharray="5 6.5" points="191.8,406.6 192.4,406 193.2,405.3 194,404.4 195,403.5 196.1,402.4 197.2,401.3 198.4,400.2 199.6,399 200.9,397.8 202.2,396.5 203.5,395.3 204.7,394 206,392.8 207.2,391.6 208.3,390.5 209.4,389.4 210.6,388.2 211.7,387.1 212.9,385.9 214.1,384.7 215.3,383.5 216.5,382.3 217.7,381.2 218.8,380 220,378.9 221.1,377.8 222.1,376.7 223.1,375.7 224.1,374.7 225,373.8 226.5,372.3 227.8,371 229,369.8 230.1,368.8 231.1,367.7 232.1,366.7 233.2,365.6 234.5,364.3 235.5,363.3 236.5,362.3 237.6,361.2 238.7,360.1 239.9,359 241,357.9 242.1,356.7 243.3,355.6 244.3,354.5 245.4,353.4 246.4,352.4 247.6,351.2 248.7,350 249.7,348.8 250.8,347.6 251.8,346.5 252.8,345.3 253.8,344.1 254.9,342.9 256,341.7 257.1,340.5 258.2,339.3 259.3,338 260.5,336.7 261.7,335.4 262.8,334.1 263.9,332.9 264.9,331.7 265.9,330.7 266.7,329.8 268.2,328.2 269.3,327.2 270.2,326.3 271.4,325 272.3,324 273.1,323 274.1,321.8 275.1,320.6 276.1,319.3 277.3,318 278.6,316.7 279.6,315.7 280.7,314.8 281.9,313.7 283.1,312.7 284.3,311.6 285.6,310.6 286.9,309.5 288.1,308.3 289.3,307.2 290.5,306 291.5,304.9 292.5,303.7 293.5,302.6 294.5,301.3 295.4,300.1 296.4,298.9 297.4,297.6 298.3,296.4 299.3,295.2 300.2,294 301.2,292.9 302.3,291.7 303.4,290.4 304.5,289.1 305.7,287.8 306.8,286.6 307.9,285.4 309,284.3 310,283.2 311,282.3 311.9,281.5 313.6,280.3 315.1,279.5 316.5,279 317.8,278.6 319,278 320.4,276.9 321.5,275.8 323.7,274.4 324.7,273.8 325.9,273.2 327.2,272.5 328.6,271.8 330,271 331.5,270.3 333.1,269.5 334.6,268.8 336.1,268.1 337.5,267.5 339,266.9 340.6,266.2 342.1,265.6 343.7,265.1 345.2,264.5 346.8,264 348.3,263.5 349.9,263 351.4,262.5 352.9,262 354.5,261.6 356,261.2 357.6,260.8 359.1,260.4 360.7,260 362.2,259.7 363.8,259.3 365.3,259 366.8,258.7 368.4,258.4 369.9,258.1 371.4,257.9 372.9,257.6 374.4,257.4 376,257.1 377.6,256.9 379.2,256.6 380.7,256.3 382.2,256.1 383.8,255.8 385.4,255.6 387,255.3 388.6,255.1 390.2,254.8 391.8,254.5 393.4,254.3 395,254 396.6,253.7 398.2,253.5 399.8,253.2 401.4,252.9 403,252.6 404.6,252.3 406.2,252 407.8,251.7 409.4,251.4 411,251 412.6,250.6 414.2,250.2 415.9,249.7 417.5,249.2 419.2,248.7 420.8,248.3 422.4,247.8 423.9,247.3 425.4,246.8 426.8,246.3 428.4,245.8 430,245.3 431.4,244.8 432.7,244.3 434.1,243.8 435.5,243.2 437,242.5 438.7,241.7 439.9,241 441.3,240.3 442.7,239.4 444.2,238.5 445.7,237.5 447.2,236.6 448.7,235.6 450.1,234.7 451.4,233.8 452.7,233 453.7,232.4 454.6,231.8 457,230.3 457.5,230"/>
</g>
<g id="chart2">
<rect x="614.5" y="218.5" width="343" height="295" fill="none" stroke="#000" stroke-width="1.15"/>
<line x1="701.5" y1="218.5" x2="701.5" y2="382.8" stroke="#000" stroke-width="1.1"/>
<line x1="701.5" y1="403.6" x2="701.5" y2="513.5" stroke="#000" stroke-width="1.1"/>
<line x1="786.5" y1="218.5" x2="786.5" y2="223.8" stroke="#000" stroke-width="1.1"/>
<line x1="786.5" y1="247" x2="786.5" y2="454.2" stroke="#000" stroke-width="1.1"/>
<line x1="786.5" y1="477" x2="786.5" y2="513.5" stroke="#000" stroke-width="1.1"/>
<line x1="872.5" y1="218.5" x2="872.5" y2="513.5" stroke="#000" stroke-width="1.1"/>
<line x1="614.5" y1="291.5" x2="956" y2="291.5" stroke="#000" stroke-width="1.1"/>
<line x1="614.5" y1="366.5" x2="956" y2="366.5" stroke="#000" stroke-width="1.1"/>
<line x1="614.5" y1="440.5" x2="956" y2="440.5" stroke="#000" stroke-width="1.1"/>
<line x1="614.5" y1="269.5" x2="617.1" y2="269.5" stroke="#000" stroke-width="1.0"/>
<line x1="614.5" y1="256.5" x2="617.1" y2="256.5" stroke="#000" stroke-width="1.0"/>
<line x1="614.5" y1="247.5" x2="617.1" y2="247.5" stroke="#000" stroke-width="1.0"/>
<line x1="614.5" y1="240.5" x2="617.1" y2="240.5" stroke="#000" stroke-width="1.0"/>
<line x1="614.5" y1="234.5" x2="617.1" y2="234.5" stroke="#000" stroke-width="1.0"/>
<line x1="614.5" y1="229.5" x2="617.1" y2="229.5" stroke="#000" stroke-width="1.0"/>
<line x1="614.5" y1="225.5" x2="617.1" y2="225.5" stroke="#000" stroke-width="1.0"/>
<line x1="614.5" y1="221.5" x2="617.1" y2="221.5" stroke="#000" stroke-width="1.0"/>
<line x1="614.5" y1="343.5" x2="617.1" y2="343.5" stroke="#000" stroke-width="1.0"/>
<line x1="614.5" y1="330.5" x2="617.1" y2="330.5" stroke="#000" stroke-width="1.0"/>
<line x1="614.5" y1="321.5" x2="617.1" y2="321.5" stroke="#000" stroke-width="1.0"/>
<line x1="614.5" y1="314.5" x2="617.1" y2="314.5" stroke="#000" stroke-width="1.0"/>
<line x1="614.5" y1="308.5" x2="617.1" y2="308.5" stroke="#000" stroke-width="1.0"/>
<line x1="614.5" y1="303.5" x2="617.1" y2="303.5" stroke="#000" stroke-width="1.0"/>
<line x1="614.5" y1="298.5" x2="617.1" y2="298.5" stroke="#000" stroke-width="1.0"/>
<line x1="614.5" y1="294.5" x2="617.1" y2="294.5" stroke="#000" stroke-width="1.0"/>
<line x1="614.5" y1="418.5" x2="617.1" y2="418.5" stroke="#000" stroke-width="1.0"/>
<line x1="614.5" y1="405.5" x2="617.1" y2="405.5" stroke="#000" stroke-width="1.0"/>
<line x1="614.5" y1="395.5" x2="617.1" y2="395.5" stroke="#000" stroke-width="1.0"/>
<line x1="614.5" y1="388.5" x2="617.1" y2="388.5" stroke="#000" stroke-width="1.0"/>
<line x1="614.5" y1="382.5" x2="617.1" y2="382.5" stroke="#000" stroke-width="1.0"/>
<line x1="614.5" y1="377.5" x2="617.1" y2="377.5" stroke="#000" stroke-width="1.0"/>
<line x1="614.5" y1="373.5" x2="617.1" y2="373.5" stroke="#000" stroke-width="1.0"/>
<line x1="614.5" y1="369.5" x2="617.1" y2="369.5" stroke="#000" stroke-width="1.0"/>
<line x1="614.5" y1="491.5" x2="617.1" y2="491.5" stroke="#000" stroke-width="1.0"/>
<line x1="614.5" y1="478.5" x2="617.1" y2="478.5" stroke="#000" stroke-width="1.0"/>
<line x1="614.5" y1="469.5" x2="617.1" y2="469.5" stroke="#000" stroke-width="1.0"/>
<line x1="614.5" y1="462.5" x2="617.1" y2="462.5" stroke="#000" stroke-width="1.0"/>
<line x1="614.5" y1="456.5" x2="617.1" y2="456.5" stroke="#000" stroke-width="1.0"/>
<line x1="614.5" y1="451.5" x2="617.1" y2="451.5" stroke="#000" stroke-width="1.0"/>
<line x1="614.5" y1="447.5" x2="617.1" y2="447.5" stroke="#000" stroke-width="1.0"/>
<line x1="614.5" y1="443.5" x2="617.1" y2="443.5" stroke="#000" stroke-width="1.0"/>
<line x1="640.5" y1="510.3" x2="640.5" y2="513.5" stroke="#000" stroke-width="1.0"/>
<line x1="655.5" y1="510.3" x2="655.5" y2="513.5" stroke="#000" stroke-width="1.0"/>
<line x1="666.5" y1="510.3" x2="666.5" y2="513.5" stroke="#000" stroke-width="1.0"/>
<line x1="675.5" y1="510.3" x2="675.5" y2="513.5" stroke="#000" stroke-width="1.0"/>
<line x1="681.5" y1="510.3" x2="681.5" y2="513.5" stroke="#000" stroke-width="1.0"/>
<line x1="687.5" y1="510.3" x2="687.5" y2="513.5" stroke="#000" stroke-width="1.0"/>
<line x1="692.5" y1="510.3" x2="692.5" y2="513.5" stroke="#000" stroke-width="1.0"/>
<line x1="697.5" y1="510.3" x2="697.5" y2="513.5" stroke="#000" stroke-width="1.0"/>
<line x1="726.5" y1="510.3" x2="726.5" y2="513.5" stroke="#000" stroke-width="1.0"/>
<line x1="741.5" y1="510.3" x2="741.5" y2="513.5" stroke="#000" stroke-width="1.0"/>
<line x1="752.5" y1="510.3" x2="752.5" y2="513.5" stroke="#000" stroke-width="1.0"/>
<line x1="760.5" y1="510.3" x2="760.5" y2="513.5" stroke="#000" stroke-width="1.0"/>
<line x1="767.5" y1="510.3" x2="767.5" y2="513.5" stroke="#000" stroke-width="1.0"/>
<line x1="773.5" y1="510.3" x2="773.5" y2="513.5" stroke="#000" stroke-width="1.0"/>
<line x1="777.5" y1="510.3" x2="777.5" y2="513.5" stroke="#000" stroke-width="1.0"/>
<line x1="782.5" y1="510.3" x2="782.5" y2="513.5" stroke="#000" stroke-width="1.0"/>
<line x1="812.5" y1="510.3" x2="812.5" y2="513.5" stroke="#000" stroke-width="1.0"/>
<line x1="827.5" y1="510.3" x2="827.5" y2="513.5" stroke="#000" stroke-width="1.0"/>
<line x1="837.5" y1="510.3" x2="837.5" y2="513.5" stroke="#000" stroke-width="1.0"/>
<line x1="846.5" y1="510.3" x2="846.5" y2="513.5" stroke="#000" stroke-width="1.0"/>
<line x1="853.5" y1="510.3" x2="853.5" y2="513.5" stroke="#000" stroke-width="1.0"/>
<line x1="858.5" y1="510.3" x2="858.5" y2="513.5" stroke="#000" stroke-width="1.0"/>
<line x1="863.5" y1="510.3" x2="863.5" y2="513.5" stroke="#000" stroke-width="1.0"/>
<line x1="868.5" y1="510.3" x2="868.5" y2="513.5" stroke="#000" stroke-width="1.0"/>
<line x1="897.5" y1="510.3" x2="897.5" y2="513.5" stroke="#000" stroke-width="1.0"/>
<line x1="912.5" y1="510.3" x2="912.5" y2="513.5" stroke="#000" stroke-width="1.0"/>
<line x1="923.5" y1="510.3" x2="923.5" y2="513.5" stroke="#000" stroke-width="1.0"/>
<line x1="931.5" y1="510.3" x2="931.5" y2="513.5" stroke="#000" stroke-width="1.0"/>
<line x1="938.5" y1="510.3" x2="938.5" y2="513.5" stroke="#000" stroke-width="1.0"/>
<line x1="944.5" y1="510.3" x2="944.5" y2="513.5" stroke="#000" stroke-width="1.0"/>
<line x1="948.5" y1="510.3" x2="948.5" y2="513.5" stroke="#000" stroke-width="1.0"/>
<line x1="953.5" y1="510.3" x2="953.5" y2="513.5" stroke="#000" stroke-width="1.0"/>
<polyline fill="none" stroke="#000" stroke-width="1.6" stroke-linejoin="round" stroke-linecap="round" points="632.2,216.1 634,216.6 635.5,218.9 639,219.5 640.7,220.7 641.7,221.8 642.9,222.5 643.9,223.6 645.1,225 646.1,225.7 647.3,226.6 648.3,227.5 649.5,228.2 650.5,229.3 651.8,230.3 652.8,231.3 654,232.4 655,233.3 656.2,234.2 657.2,235.1 658.4,235.9 659.4,237 660.6,237.7 661.6,238.9 662.8,239.5 663.8,240.7 665,242.5 666,243 667.2,244.1 668.2,244.8 669.4,245.3 670.4,246.5 671.6,247.9 672.6,248.6 673.8,250.1 674.8,250.6 676,251.5 677,252.4 678.2,253 679.2,254.1 680.5,255.3 681.5,256.1 682.7,257.1 683.7,258 684.9,258.8 685.9,259.9 687.1,261.1 688.1,261.9 689.3,262.4 690.3,263.6 691.5,265.3 692.5,265.8 693.7,266.9 694.7,267.6 695.9,268.8 696.9,269.5 698.1,271 699.1,271.5 700.3,272.6 701.3,273.4 702.5,274.1 703.5,275.1 704.8,276 705.8,277 707,277.8 708,278.9 709.2,279.6 710.2,280.8 711.4,282.3 712.4,282.9 713.6,284.3 714.6,284.9 715.8,285.6 716.8,286.6 718,287.3 719,288.5 720.2,289.8 721.2,290.5 722.4,291.9 723.4,292.5 724.6,293.9 725.6,294.4 726.8,295 727.8,296.1 729,297.5 730,298.2 731.2,299.5 732.2,300.1 733.5,301.3 734.5,302 735.7,302.8 736.7,303.7 737.9,304.5 738.9,305.6 740.1,307.1 741.1,307.7 742.3,308.5 743.3,309.5 744.5,310.4 745.5,311.4 746.7,312.5 747.7,313.4 748.9,314.2 749.9,315.2 751.1,316.7 752.1,317.3 753.3,317.9 754.3,319 755.5,319.6 756.5,320.8 757.8,322.1 758.8,322.9 760,324.1 761,324.8 762.2,326.2 763.2,326.8 764.4,328 765.4,328.7 766.6,330.1 767.6,330.6 768.8,332 769.8,332.5 771,333.4 772,334.3 773.2,335.4 774.2,336.2 775.4,336.9 776.4,338 777.6,338.9 778.6,340 779.8,341.2 780.8,342 782,342.5 783,343.7 784.2,345.1 785.2,345.8 786.5,346.4 787.5,347.5 788.7,348.6 789.7,349.5 790.9,351.1 791.9,351.6 793.1,352.1 794.1,353.2 795.3,353.9 796.3,355.1 797.5,356.3 798.5,357.2 799.7,357.9 800.7,359 801.9,360.4 802.9,361.1 804.1,361.5 805.1,362.7 806.3,364.3 807.3,364.9 808.5,366.2 809.5,366.8 810.8,368.1 811.8,368.7 813,369.6 814,370.5 815.2,371.3 816.2,372.4 817.4,373.7 818.4,374.4 819.6,375.4 820.6,376.2 821.8,377.2 822.8,378.1 824,379 825,380 826.2,381 827.2,381.9 828.4,383.2 829.4,383.9 830.6,385.3 831.6,385.9 832.8,387.3 833.8,387.8 835,388.4 836,389.5 837.2,390.4 838.2,391.4 839.5,392.5 840.5,393.4 841.7,394.5 842.7,395.3 843.9,396.2 844.9,397.2 846.1,397.9 847.1,399 848.3,399.7 849.3,400.9 850.5,401.9 851.5,402.9 852.7,403.9 853.7,404.8 854.9,406.4 855.9,406.9 857.1,408.2 858.1,408.8 859.3,410.1 860.3,410.7 861.5,412.1 862.5,412.6 863.8,414 864.8,414.5 866,415.5 867,416.3 868.2,417.7 869.2,418.3 870.4,418.7 871.4,419.9 872.6,421.3 873.6,422.1 874.8,423.2 875.8,423.9 877,424.7 878,425.7 879.2,426.9 880.2,427.7 881.4,429.3 882.4,429.8 883.6,430.6 884.6,431.5 885.8,432.7 886.8,433.5 888,434.3 889,435.3 890.2,436.2 891.2,437.2 892.5,438.7 893.5,439.3 894.7,439.7 895.7,440.9 896.9,441.8 897.9,442.9 899.1,444.2 900.1,444.9 901.3,445.9 902.3,446.8 903.5,447.4 904.5,448.5 905.7,449.9 906.7,450.6 907.9,451.5 908.9,452.5 910.1,453.6 911.1,454.4 912.3,455.4 913.3,456.3 914.5,457.4 915.5,458.2 916.8,459.3 917.8,460.1 919,461 920,462 921.2,462.6 922.2,463.8 923.4,464.6 924.4,465.7 925.6,467.3 926.6,467.9 927.8,468.8 928.8,469.7 930,470.3 931,471.4 932.2,473 933.2,473.6 934.4,474.2 935.4,475.3 936.6,476 937.6,477.1 938.8,478.4 939.8,479.2 941,480 942,481 943.2,482.1 944.2,483 945.5,484.1 946.5,484.9 947.7,485.6 948.7,486.7 949.9,487.9 950.9,488.7 952.1,489.3 953.1,490.5 954.3,491.7 955.3,492.5 957,494"/>
<polyline fill="none" stroke="#ed1c24" stroke-width="1.35" stroke-linejoin="round" stroke-linecap="round" points="614.3,482.6 615.1,481.6 615.9,475.7 616.7,485.4 617.5,482.1 618.3,479.6 619.1,486.8 619.9,484.8 620.6,484.7 621.4,478.3 622.2,479.2 623,477.3 623.8,482.9 624.6,478 625.4,476 626.2,472.9 627,479.1 627.8,472.3 628.6,477.8 629.4,479.4 630.2,471.3 631,467.8 631.8,472.4 632.6,455 633.4,470.8 634.1,470.6 634.9,476.5 635.7,475.2 636.5,471.2 637.3,472.7 638.1,469.5 638.9,468.9 639.7,469.5 640.5,471 641.2,465.7 642,467.5 642.7,463.9 643.5,454.5 644.3,463.9 645,465.7 645.8,464 646.6,462.5 647.3,461.5 648.1,459.6 648.8,463.2 649.6,458.8 650.4,462.7 651.1,461.2 651.9,458.8 652.6,458.6 653.4,455 654.2,458.6 654.9,460.8 655.7,457.1 656.5,440.2 657.2,457.7 658,454.3 658.7,453 659.5,454 660.3,456.9 661,453.8 661.8,452.6 662.6,455 663.3,448.5 664.1,449.7 664.9,451.9 665.6,453.2 666.4,448.1 667.2,448.7 667.9,445.6 668.7,442.9 669.5,446.5 670.2,443.7 671,452.1 671.7,445.7 672.5,446.7 673.3,449 674,444.2 674.8,441.9 675.6,441.3 676.3,441.9 677.1,443.6 677.9,443.1 678.6,440.1 679.4,441.4 680.2,440.3 681,437 681.8,441.1 682.6,439.9 683.4,438.2 684.2,436.7 685,436.5 685.7,435.1 686.5,433.7 687.3,431.4 688.1,431.5 688.9,432.6 689.7,422.5 690.5,433.2 691.3,428 692.1,431.5 692.9,432.1 693.7,430.5 694.5,428.4 695.3,427.3 696,426.4 696.8,430.5 697.6,427.1 698.4,425 699.2,426.9 700,424.5 700.8,424.2 701.6,424 702.4,422.6 703.2,421.6 704,421.6 704.8,420.3 705.6,418.8 706.3,416.8 707.1,417.4 707.9,416 708.7,415.5 709.5,414.8 710.3,412.4 711.1,414.2 711.9,409.4 712.7,409.1 713.5,410.3 714.3,408.7 715,409.9 715.8,409.7 716.6,408 717.4,408.6 718.2,406.5 719,404.9 719.8,404.7 720.5,404.7 721.3,404.2 722.1,403.1 722.8,402.6 723.6,403 724.4,400.9 725.1,400.8 725.9,398.7 726.7,401.9 727.4,399.5 728.2,394.3 729,398.3 729.7,394.7 730.5,397 731.2,395.3 732,395.2 732.8,394 733.5,393.8 734.3,391.8 735.1,394.5 735.8,392.2 736.6,392 737.4,390 738.1,387.9 738.9,387.1 739.7,388 740.4,386.3 741.2,385.7 742,385.7 742.8,385.9 743.5,383.9 744.3,382.4 745.1,381.8 745.8,381.1 746.6,381.7 747.4,379.4 748.2,378.8 748.9,377.8 749.7,375.9 750.5,376.8 751.4,374.6 752.2,373.3 753,372.2 753.9,371 754.7,369.5 755.5,369.1 756.3,367.3 757.2,367.8 758,366 758.8,364.9 759.6,363.8 760.5,362.9 761.3,360.6 762.1,360.3 762.9,359 763.7,358.9 764.5,356.3 765.3,355.9 766.2,354.6 767,353 767.8,351.7 768.7,350.5 769.5,348.7 770.4,347.9 771.2,347.4 772.1,345.1 773,343.3 773.8,343.8 774.7,341.8 775.3,341.7 775.9,340 776.6,339.5 777.2,339.3 777.8,339.1 778.4,338.7 779.1,336.3 779.7,336.9 780.3,336.1 780.9,335.2 781.5,336.9 782.1,336 782.7,335.1 783.4,335.3 784,335.6 784.6,334.7 785.2,334.2 785.8,334.1 786.4,334.1 787,334.7 787.7,335.3 788.3,334.3 788.9,335.2 789.5,335.3 790.2,335.6 790.8,335.1 791.4,335.6 792,336.7 792.6,337.6 793.3,337.9 793.9,336.6 794.5,338.3 795.1,339.9 795.8,340.2 796.4,340.9 797,341.5 797.6,341.7 798.2,342 798.8,344.6 799.4,344 800.1,345.6 800.7,346.2 801.3,346.9 801.9,347.8 802.5,349.4 803.4,350.3 804.2,351.6 805.1,352.2 806,353.1 806.8,354.6 807.7,355.5 808.5,356.9 809.4,358.3 810.2,358.9 811.1,360.1 811.9,360.9 812.8,361.8 813.6,363.2 814.4,363.8 815.3,365.4 816.1,366.1 817,366.9 817.8,369.1 818.6,369.3 819.5,369.9 820.3,372.3 821.1,371.8 822,372.8 822.8,374.2 823.6,374.4 824.4,376.2 825.3,376.4 826.1,378 826.9,378.7 827.7,379.7 828.5,380.5 829.3,380.6 830.1,382.6 830.9,383.1 831.7,383.6 832.4,384 833.2,385 834,385.6 834.8,386.4 835.6,387.8 836.4,388.5 837.2,389.1 838,390.8 838.8,390.4 839.6,390.9 840.4,391.8 841.2,391.4 842,392.7 842.8,393.7 843.5,393.5 844.3,394.6 845.1,395.2 845.9,395.4 846.7,396.4 847.5,397 848.3,397.3 849.1,398.1 849.9,398.3 850.6,398.3 851.4,398.8 852.2,399.1 853,400 853.8,399.2 854.5,400.5 855.3,400.9 856.1,401.2 856.9,401.4 857.7,401.5 858.5,402.3 859.2,402.1 860,402.4 860.8,402.6 861.6,403.4 862.4,403.5 863.1,404 863.9,404.3 864.7,404.2 865.5,405 866.3,405 867,405.3 867.8,406.3 868.6,406.2 869.4,406.2 870.2,406.6 871,407.2 871.7,407.2 872.5,407.8 873.3,406.4 874.1,407.8 874.8,408.5 875.6,408.6 876.3,408.7 877.1,408.7 877.8,408.8 878.6,409.7 879.3,408.9 880.1,409.3 880.9,409.7 881.6,409.8 882.4,409.8 883.1,409.8 883.9,410.1 884.6,410.3 885.4,411 886.1,410.7 886.9,410.8 887.7,410.8 888.4,412 889.2,411.3 889.9,411.7 890.7,411.8 891.4,412.5 892.2,411.9 893,412.2 893.7,412 894.5,412.4 895.2,412.9 896,413 896.7,412.9 897.5,413.3 898.2,413.5 899,413.8 899.8,413.8 900.6,413.7 901.4,414 902.1,414.1 902.9,414.4 903.7,414.6 904.5,414.5 905.3,414.8 906.1,414.9 906.8,415.2 907.6,414.5 908.4,415.4 909.2,415.3 910,415.7 910.8,415.9 911.5,416.3 912.3,416.3 913.1,416.4 913.9,416.5 914.7,416.6 915.5,416.6 916.3,416.6 917,417.1 917.8,417.7 918.6,417.3 919.4,417.4 920.2,417.8 921,417.6 921.7,418.2 922.5,418.2 923.3,418.4 924.1,418.8 924.9,418.7 925.7,418.9 926.4,418.8 927.2,419.5 928,419.2 928.8,419.5 929.6,419.6 930.4,419.5 931.1,420 931.9,419.7 932.7,420 933.5,420.2 934.3,420.3 935.1,420.3 935.8,420.7 936.6,420.5 937.4,420.6 938.2,420.7 939,421 939.8,421 940.5,421.2 941.3,421.3 942.1,421.4 942.9,421.8 943.7,421.5 944.5,421.8 945.2,421.7 946,421.7 946.8,422.1 947.6,421.9 948.4,422.2 949.2,422.4 950,422.4 950.7,422.8 951.5,423.1 952.3,422.8 953.1,423 953.9,422.9 954.6,423.1 955.4,423.4 956.2,423.3 957,423.4"/>
<polyline fill="none" stroke="#ed1c24" stroke-width="1.35" stroke-linejoin="round" stroke-linecap="round" points="614.3,492.7 615.1,489.8 615.9,503.3 616.7,497.7 617.5,494.7 618.3,496.2 619.1,494.5 619.9,501 620.6,489.5 621.4,495.6 622.2,495.1 623,492.5 623.8,492.4 624.6,492.4 625.4,486 626.2,493.9 627,495.6 627.8,494.5 628.6,486.1 629.4,497.1 630.2,495.7 631,493.5 631.8,488.1 632.6,494.8 633.4,486.2 634.1,490.2 634.9,478.1 635.7,497.2 636.5,488.9 637.3,486.8 638.1,494.1 638.9,483.3 639.7,489.3 640.5,491.3 641.2,492 642,496.2 642.7,485.4 643.5,492.1 644.3,489 645,486.3 645.8,492.6 646.6,487.7 647.3,482.8 648.1,492.8 648.8,487.4 649.6,489.1 650.4,488 651.1,484.7 651.9,488.1 652.6,485.6 653.4,486.2 654.2,487.2 654.9,492.7 655.7,484.6 656.5,487.4 657.2,485 658,486.9 658.7,486.4 659.5,486.9 660.3,484.2 661,479.8 661.8,485.4 662.6,483.1 663.3,484.5 664.1,479.6 664.9,481.3 665.6,478.8 666.4,485.9 667.2,480.3 667.9,478.3 668.7,482.2 669.5,477.9 670.2,479.8 671,481.5 671.7,479.5 672.5,475.8 673.3,480.2 674,479.6 674.8,475.9 675.6,475.3 676.3,480.6 677.1,475.8 677.9,477.3 678.6,474.6 679.4,473.6 680.2,475.1 681,477.8 681.8,476 682.6,470.5 683.4,473.8 684.2,471.3 685,474.3 685.7,473.3 686.5,468.6 687.3,471.7 688.1,469 688.9,470.6 689.7,467 690.5,471.7 691.3,471.4 692.1,468.9 692.9,469.2 693.7,467.9 694.5,468.8 695.3,465.2 696,462.8 696.8,466.1 697.6,465.3 698.4,467.7 699.2,465.1 700,466.1 700.8,464.7 701.6,466.4 702.4,463.8 703.2,461.6 704,460.9 704.8,461.8 705.6,463.1 706.3,461.4 707.1,457.8 707.9,460.4 708.7,458.8 709.5,456.1 710.3,455.4 711.1,454.6 711.9,455.6 712.7,457.4 713.5,454.4 714.3,454.4 715,453.2 715.8,450.9 716.6,452.6 717.4,451 718.2,451.5 719,450.9 719.8,451.3 720.5,449.5 721.2,450 722,446.1 722.8,446.5 723.5,448.8 724.2,445.1 725,446.7 725.8,444.9 726.5,443.8 727.2,442 728,443.5 728.8,443.3 729.5,442.1 730.2,441.1 731,440.6 731.8,438.5 732.6,439.5 733.5,439 734.3,438.2 735.1,435.3 736,435.5 736.8,434.6 737.6,433.8 738.4,433.2 739.2,431.3 740.1,429.2 740.9,430 741.7,428.5 742.6,428.5 743.4,427.6 744.2,426.6 745,426.1 745.7,425.3 746.5,424.9 747.3,424.8 748,423.9 748.8,422 749.6,422.5 750.3,422.3 751.1,420.8 751.9,420.8 752.6,420.2 753.4,418.7 754.2,417.1 754.9,418 755.7,417.2 756.5,416.4 757.2,415.4 758,415.4 758.8,414.2 759.6,413.9 760.3,413.2 761.1,412.6 761.9,412.3 762.7,409.6 763.4,409.5 764.2,411.5 765,408.3 765.8,408 766.6,408.3 767.3,407 768.1,405.3 768.9,404.8 769.7,404.1 770.4,404 771.2,402.3 772,402 772.8,401.2 773.6,401.6 774.4,398.3 775.2,397.2 776,396.8 776.9,394.8 777.7,394.3 778.5,394 779.3,393.2 780.1,392.4 780.9,391.4 781.7,390.4 782.3,389.7 782.9,388.6 783.5,387.9 784.1,386.8 784.8,386.1 785.4,385.1 786,383.9 786.6,383.2 787.2,382 788,381 788.9,379.7 789.7,378.3 790.6,376.7 791.4,375.5 792.2,375 793.1,373.4 793.9,371.5 794.8,370.9 795.6,369.6 796.3,367.8 797,367.7 797.7,365.7 798.3,365.3 799,363.8 799.7,363.1 800.4,361.6 801.1,359.2 801.8,358.2 802.5,354.8 803.2,355 803.9,354.6 804.6,354 805.3,352.1 806,351.9 806.7,350.2 807.4,351.2 808.1,350.8 808.8,349.8 809.4,350.1 810.1,349 810.8,349.1 811.5,348.6 812.2,349.8 812.9,349.6 813.6,349.6 814.3,349.8 815,349.6 815.7,350.6 816.4,351.5 817.1,352 817.8,352.2 818.5,354.1 819.2,354.5 819.9,355.9 820.6,356.4 821.2,357.1 821.9,357.9 822.6,359.7 823.3,360.7 823.9,362 824.5,363 825.2,363.6 825.8,365.3 826.4,365.6 827,367 827.7,367.7 828.3,368.5 828.9,369.7 829.8,370.8 830.6,372.5 831.5,372.9 832.3,374.8 833.2,375.8 834.1,376.7 834.9,377.8 835.8,379.5 836.7,380.6 837.5,381.3 838.4,381.8 839.3,384.2 840.2,384.7 841,385.4 841.9,387.1 842.8,387.8 843.6,388.9 844.5,389.3 845.3,390.6 846.1,390.9 847,391.4 847.8,392.1 848.6,393.3 849.4,393.9 850.3,394.6 851.1,395.4 851.9,396 852.7,395.9 853.5,397 854.3,397.2 855.1,397.9 855.9,398.5 856.7,399 857.4,400.2 858.2,399.8 859,400.4 859.8,400.5 860.6,401.5 861.4,401.8 862.2,402.4 863,402.9 863.8,403.3 864.6,403.5 865.4,403.8 866.2,404 867,404.6 867.8,405.2 868.5,405.4 869.3,405.4 870.1,405.4 870.9,405.9 871.7,406.5 872.5,406.5 873.3,406.9 874.1,407.2 874.8,408 875.6,407.6 876.3,408.1 877.1,408.1 877.8,408.4 878.6,408.4 879.3,408.6 880.1,409 880.9,408.7 881.6,409.1 882.4,410.1 883.1,409.8 883.9,409.4 884.6,410.1 885.4,410.2 886.1,410.4 886.9,410.9 887.7,410.9 888.4,411 889.2,411.5 889.9,411.7 890.7,411.7 891.4,412.1 892.2,412.1 893,412 893.7,412.3 894.5,413 895.2,413.1 896,412.8 896.7,413.2 897.5,413.4 898.2,413.7 899,413.5 899.8,414.1 900.6,414.2 901.4,414.2 902.1,414.7 902.9,414.8 903.7,414.7 904.5,415 905.3,414.9 906.1,415.3 906.8,415.3 907.6,415.4 908.4,415.6 909.2,415.7 910,416.2 910.8,416.1 911.5,416.2 912.3,416.4 913.1,416.7 913.9,416.9 914.7,417.2 915.5,417.2 916.3,417 917,417.2 917.8,417.5 918.6,417.5 919.4,418.2 920.2,418 921,418.3 921.7,418.4 922.5,418.6 923.3,418.6 924.1,418.7 924.9,418.8 925.7,419.2 926.4,419.4 927.2,419.2 928,419.7 928.8,420 929.6,419.8 930.4,419.9 931.1,420.2 931.9,420.2 932.7,420.3 933.5,420.5 934.3,420.3 935.1,420.6 935.8,420.4 936.6,420.9 937.4,421.1 938.2,421.3 939,421 939.8,421.5 940.5,421.5 941.3,421.6 942.1,421.7 942.9,421.9 943.7,421.9 944.5,422.1 945.2,422.1 946,422.3 946.8,422.3 947.6,422.4 948.4,422.7 949.2,422.7 950,422.8 950.7,422.7 951.5,422.9 952.3,423.1 953.1,423.1 953.9,423.7 954.6,423.4 955.4,423.5 956.2,423.6 957,423.9"/>
<polyline fill="none" stroke="#ed1c24" stroke-width="1.1" stroke-linejoin="round" stroke-linecap="round" points="614.3,477.6 615.1,486.2 615.9,489.3 616.7,483.2 617.5,484.2 618.3,483.6 619.1,483.4 619.9,479.1 620.6,478.4 621.4,467.1 622.2,478.3 623,479.6 623.8,481.5 624.6,472.2 625.4,472.4 626.2,475.6 627,474.2 627.8,476.9 628.6,469.1 629.4,475.8 630.2,471.7 631,478.3 631.8,476.9 632.6,471.1 633.4,472.3 634.1,469.9 634.9,472 635.7,468 636.5,470.1 637.3,470.5 638.1,468.1 638.9,466.7 639.7,468.7 640.5,466.6 641.2,470.5 642,464.7 642.7,468.7 643.5,464.8 644.3,464.4 645,464.6 645.8,465 646.6,465.9 647.3,465.5 648.1,466.9 648.8,464.1 649.6,464 650.4,462.5 651.1,462.7 651.9,460.7 652.6,460.3 653.4,459.6 654.2,459.2 654.9,456.5 655.7,455.2 656.5,457.9 657.2,457.6 658,455.5 658.7,459.5 659.5,451.3 660.3,452.5 661,452.4 661.8,453 662.6,451.3 663.3,455.5 664.1,454.2 664.9,450.9 665.6,453.1 666.4,451.1 667.2,447.7 667.9,448 668.7,449.5 669.5,452 670.2,445 671,442.9 671.7,443.2 672.5,448 673.3,441.8 674,443.1 674.8,445.4 675.6,444.1 676.3,447.5 677.1,445 677.9,439.6 678.6,443.4 679.4,435 680.2,440.8 681,438.2 681.8,439.6 682.6,437.5 683.4,438.6 684.2,435.6 685,437.3 685.7,435.3 686.5,432.8 687.3,432.4 688.1,432.3 688.9,433 689.7,433.7 690.5,428.9 691.3,431.8 692.1,432.9 692.9,431.4 693.7,427.5 694.5,429.3 695.3,427.7 696,429.5 696.8,423.8 697.6,428.4 698.4,425.3 699.2,424.6 700,428.1 700.8,422.2 701.6,422.5 702.4,420.5 703.2,423.9 704,420.7 704.8,421.8 705.6,424.9 706.3,421.4 707.1,416.4 707.9,418.5 708.7,414.3 709.5,415.6 710.3,415.5 711.1,416.5 711.9,416.6 712.7,410 713.5,411.2 714.3,408.3 715,409.4 715.8,411.3 716.6,406.9 717.4,407.9 718.2,408.6 719,406.3"/>
<polyline fill="none" stroke="#ed1c24" stroke-width="1.1" stroke-linejoin="round" stroke-linecap="round" points="614.3,498.8 615.1,491.7 615.9,488.5 616.7,509 617.5,485.7 618.3,493.8 619.1,484.9 619.9,493 620.6,488.9 621.4,488.5 622.2,493.1 623,496.1 623.8,489.6 624.6,493.2 625.4,491.5 626.2,486.9 627,490.3 627.8,492.1 628.6,493.6 629.4,496.5 630.2,490.7 631,486.7 631.8,492.7 632.6,491.1 633.4,492.6 634.1,492 634.9,493.5 635.7,493.9 636.5,488.2 637.3,495.4 638.1,492.4 638.9,493.3 639.7,491.6 640.5,492.1 641.2,488.7 642,493.1 642.7,482.4 643.5,492.4 644.3,487.5 645,489.5 645.8,489.5 646.6,489.7 647.3,486.4 648.1,489.9 648.8,487.2 649.6,485.4 650.4,487.5 651.1,487.5 651.9,485.1 652.6,490.2 653.4,485 654.2,487.8 654.9,486.1 655.7,480.1 656.5,489 657.2,482.4 658,482.6 658.7,490.8 659.5,486 660.3,486.3 661,487 661.8,484.8 662.6,480.7 663.3,487.7 664.1,486.5 664.9,481.6 665.6,480.3 666.4,484.5 667.2,480.5 667.9,483.3 668.7,479.6 669.5,480.6 670.2,484.7 671,483.2 671.7,483.7 672.5,481.1 673.3,480.9 674,479.5 674.8,482.9 675.6,475.5 676.3,481.9 677.1,480.1 677.9,477.1 678.6,472.8 679.4,478.9 680.2,473.7 681,476.3 681.8,475.5 682.6,474 683.4,471.7 684.2,475 685,475.8 685.7,469.7 686.5,476.5 687.3,472.1 688.1,473 688.9,471 689.7,469.8 690.5,466.7 691.3,472.3 692.1,469.3 692.9,468.7 693.7,467 694.5,467.4 695.3,466.9 696,468.7 696.8,468.7 697.6,465.4 698.4,462.1 699.2,467.2 700,466.1 700.8,463 701.6,462.4 702.4,464.8 703.2,459.9 704,464.5 704.8,460.9 705.6,460.4 706.3,462.7 707.1,458.6 707.9,461.5 708.7,458.7 709.5,458 710.3,459.4 711.1,455.9 711.9,456.4 712.7,457.7 713.5,454.2 714.3,452 715,452.7 715.8,453.7 716.6,452.4 717.4,451.9 718.2,452 719,450.7"/>
<polyline fill="none" stroke="#ed1c24" stroke-width="1.75" stroke-linejoin="round" stroke-linecap="butt" stroke-dasharray="5 6.5" points="719,406.6 719.7,406 720.7,405.2 721.8,404.2 723.1,403.1 724.5,402 725.9,400.8 727.3,399.6 728.7,398.4 730,397.3 731.3,396.3 732.5,395.2 733.8,394.2 735.1,393.1 736.4,392.1 737.7,391 739,389.9 740.2,388.9 741.4,387.8 742.6,386.7 743.7,385.6 744.8,384.5 745.8,383.4 746.9,382.3 747.9,381.2 749,380.1 750,379 751.1,378 752.3,376.9 753.6,375.8 754.9,374.7 756.1,373.6 757.4,372.6 758.6,371.6 759.7,370.6 760.8,369.7 762.1,368.6 763.3,367.5 764.4,366.6 765.5,365.6 766.6,364.6 767.8,363.5 768.9,362.5 770,361.4 771.1,360.3 772.3,359.2 773.5,358.1 774.8,356.9 776.1,355.8 777.2,354.9 778.5,353.9 779.8,352.9 781.1,351.9 782.5,350.9 783.8,350 785,349.1 786.2,348.2 787.2,347.5 788.9,346.2 790.1,345.2 791.2,344.3 792.8,343.3 794,342.6 795.2,342 796.6,341.3 798,340.6 799.5,339.9 801,339.2 802.5,338.5 803.8,337.9 805.1,337.3 806.4,336.8 807.7,336.2 809.1,335.6 810.5,335 812,334.5 813.6,333.9 815,333.4 816.4,333 817.9,332.5 819.4,332 821,331.5 822.6,331.1 824.2,330.6 825.8,330.2 827.4,329.8 828.9,329.4 830.4,329.1 832,328.8 833.5,328.5 835,328.2 836.6,327.9 838.1,327.7 839.6,327.5 841.1,327.3 842.7,327.1 844.2,326.9 845.7,326.7 847.3,326.6 848.8,326.4 850.3,326.3 851.9,326.2 853.4,326.1 854.9,326 856.4,325.9 857.9,325.8 859.4,325.7 861,325.6 862.5,325.6 864,325.5 865.5,325.5 866.9,325.5 868.4,325.5 870,325.4 871.6,325.4 873.3,325.3 874.8,325.2 876.3,325.1 877.9,325.1 879.5,325 881.2,324.9 882.9,324.8 884.5,324.6 886.2,324.5 887.8,324.4 889.4,324.2 891,324 892.7,323.8 894.4,323.5 896.1,323.2 897.7,322.9 899.4,322.6 901,322.3 902.6,322 904.1,321.6 905.6,321.3 907,321 908.7,320.7 910.2,320.4 911.6,320.1 913,319.9 914.3,319.6 915.7,319.2 917.2,318.7 918.9,318 920.1,317.5 921.3,316.8 922.6,316.2 924,315.4 925.3,314.7 926.7,313.9 928.1,313.1 929.5,312.2 930.9,311.4 932.2,310.6 933.5,309.8 934.8,309 936.2,308.2 937.5,307.3 938.9,306.4 940.2,305.5 941.6,304.6 942.9,303.7 944.1,302.9 945.4,302.1 946.5,301.3 947.7,300.6 948.7,300 950.5,299 952.2,298.2 953.7,297.6 955.1,297.1 956.2,296.6 957,296.3"/>
<polyline fill="none" stroke="#ed1c24" stroke-width="1.75" stroke-linejoin="round" stroke-linecap="butt" stroke-dasharray="5 6.5" points="719,451 719.7,450.4 720.6,449.7 721.7,448.9 722.9,448 724.2,447 725.5,445.9 726.9,444.7 728.3,443.6 729.7,442.4 731,441.3 732.1,440.3 733.2,439.3 734.3,438.2 735.4,437.1 736.5,436 737.7,434.8 738.8,433.7 739.9,432.6 741,431.5 742.1,430.4 743.2,429.4 744.2,428.5 745.5,427.3 746.8,426.3 748,425.2 749.2,424.3 750.4,423.3 751.5,422.4 752.7,421.5 753.8,420.7 755,419.8 756.3,418.9 757.6,418 758.8,417.2 760.1,416.4 761.3,415.7 762.5,414.8 763.8,413.9 765,412.8 766.1,411.7 767.1,410.6 768.2,409.4 769.2,408.1 770.2,406.8 771.3,405.4 772.4,404.2 773.5,402.9 774.7,401.7 775.8,400.7 777,399.7 778.3,398.7 779.6,397.8 780.9,396.9 782.2,395.9 783.5,395 784.7,394 786,393 787.2,392 788.4,390.9 789.6,389.8 790.8,388.6 791.9,387.4 793.1,386.1 794.2,384.9 795.3,383.8 796.4,382.7 797.4,381.7 798.3,380.8 799.9,379.4 801.3,378.3 802.6,377.3 803.9,376.4 805.3,375.3 806.4,374.4 807.6,373.4 808.8,372.4 810,371.4 811.2,370.4 812.4,369.3 813.6,368.3 814.8,367.2 816,366.1 817.3,364.9 818.5,363.8 819.7,362.7 820.9,361.6 822,360.7 823.5,359.6 824.8,358.6 826.1,357.7 827.5,356.8 828.9,355.8 830.2,354.9 831.5,354.1 832.8,353.2 834.2,352.3 835.6,351.4 837.2,350.3 838.3,349.5 839.5,348.7 840.7,347.8 841.9,346.9 843.2,346 844.5,345.1 845.8,344.3 847.1,343.4 848.3,342.6 849.7,341.7 851.1,340.9 852.6,340 854,339.2 855.4,338.5 856.8,337.7 858.1,337 859.4,336.4 860.9,335.7 862.3,335.1 863.6,334.5 864.9,334 866.3,333.5 867.8,332.9 869.3,332.3 870.9,331.7 872.5,331.1 874.2,330.5 875.9,329.9 877.4,329.3 878.9,328.8 880.6,328.1 882.2,327.4 883.6,326.8 885.2,326.2 887,325.6 888.3,325.3 889.5,325.1 890.9,324.8 892.3,324.6 893.8,324.4 895.4,324.2 897.1,323.9 899,323.5 900.3,323.2 901.7,322.9 903.1,322.6 904.7,322.3 906.3,321.9 907.9,321.6 909.5,321.2 911.2,320.8 912.8,320.4 914.4,320.1 916,319.7 917.5,319.3 918.9,319 920.7,318.6 922.4,318.2 924,317.8 925.6,317.4 927.2,317 928.8,316.6 930.3,316.2 931.8,315.8 933.3,315.4 934.8,315 936.5,314.6 938.1,314.1 939.8,313.7 941.4,313.2 943,312.8 944.6,312.4 946,311.9 947.4,311.5 948.7,311 950.5,310.2 952.2,309.4 953.7,308.6 955.1,307.8 956.2,307.1 957,306.6"/>
</g>
<g id="chart3">
<line x1="130.5" y1="673.3" x2="130.5" y2="981.2" stroke="#000" stroke-width="1.1"/>
<line x1="93.9" y1="705.5" x2="460.3" y2="705.5" stroke="#000" stroke-width="1.1"/>
<line x1="167.5" y1="673.3" x2="167.5" y2="981.2" stroke="#000" stroke-width="1.1"/>
<line x1="93.9" y1="735" x2="460.3" y2="735" stroke="#000" stroke-width="1.1"/>
<line x1="203.5" y1="673.3" x2="203.5" y2="981.2" stroke="#000" stroke-width="1.1"/>
<line x1="93.9" y1="766.5" x2="460.3" y2="766.5" stroke="#000" stroke-width="1.1"/>
<line x1="241.5" y1="673.3" x2="241.5" y2="769.8" stroke="#000" stroke-width="1.1"/>
<line x1="241.5" y1="788.7" x2="241.5" y2="800.6" stroke="#000" stroke-width="1.1"/>
<line x1="241.5" y1="821" x2="241.5" y2="981.2" stroke="#000" stroke-width="1.1"/>
<line x1="93.9" y1="796.5" x2="460.3" y2="796.5" stroke="#000" stroke-width="1.1"/>
<line x1="277.5" y1="673.3" x2="277.5" y2="769.8" stroke="#000" stroke-width="1.1"/>
<line x1="277.5" y1="788.7" x2="277.5" y2="800.6" stroke="#000" stroke-width="1.1"/>
<line x1="277.5" y1="821" x2="277.5" y2="981.2" stroke="#000" stroke-width="1.1"/>
<line x1="93.9" y1="827.5" x2="460.3" y2="827.5" stroke="#000" stroke-width="1.1"/>
<line x1="313.5" y1="673.3" x2="313.5" y2="981.2" stroke="#000" stroke-width="1.1"/>
<line x1="93.9" y1="859.5" x2="460.3" y2="859.5" stroke="#000" stroke-width="1.1"/>
<line x1="350.5" y1="673.3" x2="350.5" y2="981.2" stroke="#000" stroke-width="1.1"/>
<line x1="93.9" y1="889.5" x2="460.3" y2="889.5" stroke="#000" stroke-width="1.1"/>
<line x1="386.5" y1="673.3" x2="386.5" y2="981.2" stroke="#000" stroke-width="1.1"/>
<line x1="93.9" y1="920.5" x2="460.3" y2="920.5" stroke="#000" stroke-width="1.1"/>
<line x1="424.5" y1="673.3" x2="424.5" y2="981.2" stroke="#000" stroke-width="1.1"/>
<line x1="93.9" y1="950.5" x2="460.3" y2="950.5" stroke="#000" stroke-width="1.1"/>
<line x1="93.9" y1="673.5" x2="460.3" y2="673.5" stroke="#777" stroke-width="1.0"/>
<line x1="460.3" y1="673.3" x2="460.3" y2="981.2" stroke="#888" stroke-width="1.6"/>
<line x1="94.2" y1="673" x2="94.2" y2="981.9" stroke="#000" stroke-width="1.6"/>
<line x1="93.9" y1="981.2" x2="460.3" y2="981.2" stroke="#000" stroke-width="1.5"/>
<polyline fill="none" stroke="#ed1c24" stroke-width="2.0" stroke-linejoin="round" stroke-linecap="round" points="93.9,981 123.7,971.9 115.8,968.9 119.7,959 121.7,945 125.7,925.2 129.6,912.3 143.5,905 154.4,893.5 167.3,875.6 180.2,857.8 185.2,847.9 185.6,673.3"/>
<polyline fill="none" stroke="#1f2f8f" stroke-width="2.0" stroke-linejoin="round" stroke-linecap="round" points="93.9,978.8 96.9,975.4 156,957.4 118.7,953 127.7,913.3 130.6,905.4 137.6,899.8 153.5,895 204,879.6 241.5,867.5 277.2,856.5 288,851.2 314,841.7 328.4,834.3 350.6,822.4 386.3,803.9 395.2,795.5 435,773 457.7,760.2 460,757.3 460,673.3"/>
<line x1="215.6" y1="781.1" x2="194" y2="781.1" stroke="#231f20" stroke-width="1.4"/>
<path fill="#231f20" d="M186.2,781 L195.2,775.8 L195.2,786.2 Z"/>
<line x1="297" y1="810.5" x2="322" y2="830" stroke="#231f20" stroke-width="1.0"/>
<path fill="#231f20" d="M328.4,835 L317.4,832.6 L323.4,824.6 Z"/>
</g>
<g id="chart4">
<line x1="651.5" y1="671.5" x2="651.5" y2="977.5" stroke="#000" stroke-width="1.1"/>
<line x1="732.5" y1="671.5" x2="732.5" y2="868.6" stroke="#000" stroke-width="1.1"/>
<line x1="732.5" y1="893" x2="732.5" y2="928" stroke="#000" stroke-width="1.1"/>
<line x1="732.5" y1="952" x2="732.5" y2="977.5" stroke="#000" stroke-width="1.1"/>
<line x1="814.5" y1="671.5" x2="814.5" y2="977.5" stroke="#000" stroke-width="1.1"/>
<line x1="894.5" y1="671.5" x2="894.5" y2="977.5" stroke="#000" stroke-width="1.1"/>
<line x1="570.5" y1="733.5" x2="974.5" y2="733.5" stroke="#000" stroke-width="1.1"/>
<line x1="570.5" y1="793.5" x2="974.5" y2="793.5" stroke="#000" stroke-width="1.1"/>
<line x1="570.5" y1="855.5" x2="974.5" y2="855.5" stroke="#000" stroke-width="1.1"/>
<line x1="570.5" y1="915.5" x2="974.5" y2="915.5" stroke="#000" stroke-width="1.1"/>
<line x1="570.5" y1="671.5" x2="974.5" y2="671.5" stroke="#777" stroke-width="1.0"/>
<line x1="974.5" y1="671.5" x2="974.5" y2="977.5" stroke="#777" stroke-width="1.0"/>
<line x1="570.5" y1="671" x2="570.5" y2="978.1" stroke="#000" stroke-width="1.3"/>
<line x1="570.5" y1="977.5" x2="974.5" y2="977.5" stroke="#000" stroke-width="1.3"/>
<line x1="570.5" y1="671.5" x2="574.9" y2="671.5" stroke="#000" stroke-width="1.1"/>
<line x1="570.5" y1="683.5" x2="574.9" y2="683.5" stroke="#000" stroke-width="1.1"/>
<line x1="570.5" y1="696.5" x2="574.9" y2="696.5" stroke="#000" stroke-width="1.1"/>
<line x1="570.5" y1="708.5" x2="574.9" y2="708.5" stroke="#000" stroke-width="1.1"/>
<line x1="570.5" y1="721.5" x2="574.9" y2="721.5" stroke="#000" stroke-width="1.1"/>
<line x1="570.5" y1="733.5" x2="574.9" y2="733.5" stroke="#000" stroke-width="1.1"/>
<line x1="570.5" y1="745.5" x2="574.9" y2="745.5" stroke="#000" stroke-width="1.1"/>
<line x1="570.5" y1="757.5" x2="574.9" y2="757.5" stroke="#000" stroke-width="1.1"/>
<line x1="570.5" y1="769.5" x2="574.9" y2="769.5" stroke="#000" stroke-width="1.1"/>
<line x1="570.5" y1="781.5" x2="574.9" y2="781.5" stroke="#000" stroke-width="1.1"/>
<line x1="570.5" y1="793.5" x2="574.9" y2="793.5" stroke="#000" stroke-width="1.1"/>
<line x1="570.5" y1="805.5" x2="574.9" y2="805.5" stroke="#000" stroke-width="1.1"/>
<line x1="570.5" y1="818.5" x2="574.9" y2="818.5" stroke="#000" stroke-width="1.1"/>
<line x1="570.5" y1="830.5" x2="574.9" y2="830.5" stroke="#000" stroke-width="1.1"/>
<line x1="570.5" y1="843.5" x2="574.9" y2="843.5" stroke="#000" stroke-width="1.1"/>
<line x1="570.5" y1="855.5" x2="574.9" y2="855.5" stroke="#000" stroke-width="1.1"/>
<line x1="570.5" y1="867.5" x2="574.9" y2="867.5" stroke="#000" stroke-width="1.1"/>
<line x1="570.5" y1="879.5" x2="574.9" y2="879.5" stroke="#000" stroke-width="1.1"/>
<line x1="570.5" y1="891.5" x2="574.9" y2="891.5" stroke="#000" stroke-width="1.1"/>
<line x1="570.5" y1="903.5" x2="574.9" y2="903.5" stroke="#000" stroke-width="1.1"/>
<line x1="570.5" y1="915.5" x2="574.9" y2="915.5" stroke="#000" stroke-width="1.1"/>
<line x1="570.5" y1="927.5" x2="574.9" y2="927.5" stroke="#000" stroke-width="1.1"/>
<line x1="570.5" y1="940.5" x2="574.9" y2="940.5" stroke="#000" stroke-width="1.1"/>
<line x1="570.5" y1="952.5" x2="574.9" y2="952.5" stroke="#000" stroke-width="1.1"/>
<line x1="570.5" y1="965.5" x2="574.9" y2="965.5" stroke="#000" stroke-width="1.1"/>
<line x1="594.5" y1="972" x2="594.5" y2="977.5" stroke="#000" stroke-width="1.0"/>
<line x1="608.5" y1="972" x2="608.5" y2="977.5" stroke="#000" stroke-width="1.0"/>
<line x1="619.5" y1="972" x2="619.5" y2="977.5" stroke="#000" stroke-width="1.0"/>
<line x1="626.5" y1="972" x2="626.5" y2="977.5" stroke="#000" stroke-width="1.0"/>
<line x1="633.5" y1="972" x2="633.5" y2="977.5" stroke="#000" stroke-width="1.0"/>
<line x1="638.5" y1="972" x2="638.5" y2="977.5" stroke="#000" stroke-width="1.0"/>
<line x1="643.5" y1="972" x2="643.5" y2="977.5" stroke="#000" stroke-width="1.0"/>
<line x1="647.5" y1="972" x2="647.5" y2="977.5" stroke="#000" stroke-width="1.0"/>
<line x1="675.5" y1="972" x2="675.5" y2="977.5" stroke="#000" stroke-width="1.0"/>
<line x1="689.5" y1="972" x2="689.5" y2="977.5" stroke="#000" stroke-width="1.0"/>
<line x1="700.5" y1="972" x2="700.5" y2="977.5" stroke="#000" stroke-width="1.0"/>
<line x1="707.5" y1="972" x2="707.5" y2="977.5" stroke="#000" stroke-width="1.0"/>
<line x1="714.5" y1="972" x2="714.5" y2="977.5" stroke="#000" stroke-width="1.0"/>
<line x1="719.5" y1="972" x2="719.5" y2="977.5" stroke="#000" stroke-width="1.0"/>
<line x1="724.5" y1="972" x2="724.5" y2="977.5" stroke="#000" stroke-width="1.0"/>
<line x1="728.5" y1="972" x2="728.5" y2="977.5" stroke="#000" stroke-width="1.0"/>
<line x1="756.5" y1="972" x2="756.5" y2="977.5" stroke="#000" stroke-width="1.0"/>
<line x1="771.5" y1="972" x2="771.5" y2="977.5" stroke="#000" stroke-width="1.0"/>
<line x1="781.5" y1="972" x2="781.5" y2="977.5" stroke="#000" stroke-width="1.0"/>
<line x1="789.5" y1="972" x2="789.5" y2="977.5" stroke="#000" stroke-width="1.0"/>
<line x1="796.5" y1="972" x2="796.5" y2="977.5" stroke="#000" stroke-width="1.0"/>
<line x1="801.5" y1="972" x2="801.5" y2="977.5" stroke="#000" stroke-width="1.0"/>
<line x1="806.5" y1="972" x2="806.5" y2="977.5" stroke="#000" stroke-width="1.0"/>
<line x1="810.5" y1="972" x2="810.5" y2="977.5" stroke="#000" stroke-width="1.0"/>
<line x1="838.5" y1="972" x2="838.5" y2="977.5" stroke="#000" stroke-width="1.0"/>
<line x1="852.5" y1="972" x2="852.5" y2="977.5" stroke="#000" stroke-width="1.0"/>
<line x1="862.5" y1="972" x2="862.5" y2="977.5" stroke="#000" stroke-width="1.0"/>
<line x1="870.5" y1="972" x2="870.5" y2="977.5" stroke="#000" stroke-width="1.0"/>
<line x1="876.5" y1="972" x2="876.5" y2="977.5" stroke="#000" stroke-width="1.0"/>
<line x1="881.5" y1="972" x2="881.5" y2="977.5" stroke="#000" stroke-width="1.0"/>
<line x1="886.5" y1="972" x2="886.5" y2="977.5" stroke="#000" stroke-width="1.0"/>
<line x1="890.5" y1="972" x2="890.5" y2="977.5" stroke="#000" stroke-width="1.0"/>
<line x1="918.5" y1="972" x2="918.5" y2="977.5" stroke="#000" stroke-width="1.0"/>
<line x1="932.5" y1="972" x2="932.5" y2="977.5" stroke="#000" stroke-width="1.0"/>
<line x1="942.5" y1="972" x2="942.5" y2="977.5" stroke="#000" stroke-width="1.0"/>
<line x1="950.5" y1="972" x2="950.5" y2="977.5" stroke="#000" stroke-width="1.0"/>
<line x1="956.5" y1="972" x2="956.5" y2="977.5" stroke="#000" stroke-width="1.0"/>
<line x1="961.5" y1="972" x2="961.5" y2="977.5" stroke="#000" stroke-width="1.0"/>
<line x1="966.5" y1="972" x2="966.5" y2="977.5" stroke="#000" stroke-width="1.0"/>
<line x1="970.5" y1="972" x2="970.5" y2="977.5" stroke="#000" stroke-width="1.0"/>
<line x1="517.5" y1="734.4" x2="517.5" y2="755.6" stroke="#231f20" stroke-width="1.0"/>
<polyline fill="none" stroke="#1f3f9a" stroke-width="2.2" stroke-linejoin="round" stroke-linecap="round" points="570.5,683.8 582.4,710.6 590,733.4 613,793.3 628,830 637.4,855.3 651.7,886.5 660.8,899.4 672,906.7 683,910.3 698.9,917.2 732.6,922.8 750.5,926 774.8,927.9 804.6,934.8 814.7,934.8 854.2,927.4 874,929 894.6,933.3 933.5,947.7 974.5,966.3"/>
<polyline fill="none" stroke="#ed1c24" stroke-width="2.4" stroke-linejoin="round" stroke-linecap="round" points="570.5,905 599.7,924.2 619.5,937 639.4,948.6 651.7,954.5 673,960 695,960 732.6,963.5 772,964.6 794.6,962.9 829.4,962.9 854.2,964.6 874,964.6 894.6,962.9 931,962.9 974.5,966.8"/>
<line x1="681.6" y1="879.5" x2="662" y2="885.7" stroke="#231f20" stroke-width="1.0"/>
<path fill="#231f20" d="M653.3,888.5 L661.3,880.5 L664.5,890.5 Z"/>
<line x1="666.7" y1="939.2" x2="648" y2="945.6" stroke="#231f20" stroke-width="1.0"/>
<path fill="#231f20" d="M639.4,948.6 L647.4,940.6 L650.6,950.6 Z"/>
</g>
</svg></body></html>
